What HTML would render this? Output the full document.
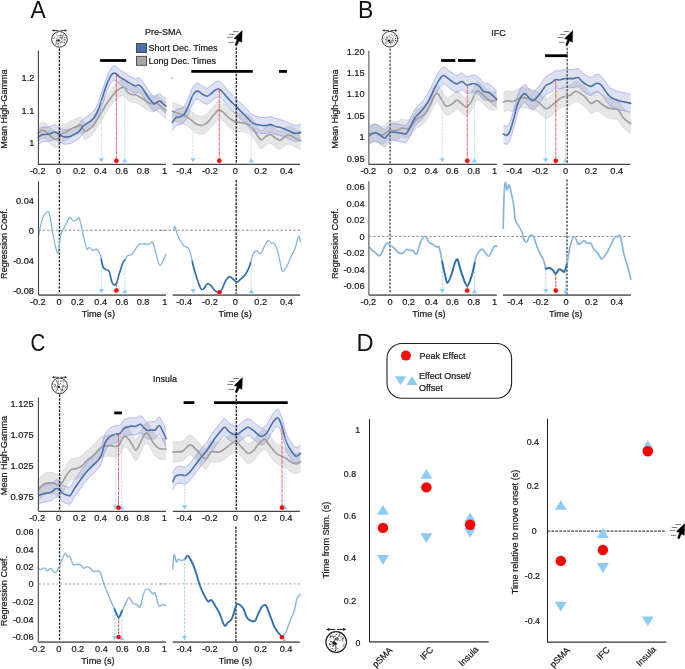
<!DOCTYPE html>
<html><head><meta charset="utf-8"><title>Figure</title>
<style>html,body{margin:0;padding:0;background:#fff;} body{width:685px;height:669px;overflow:hidden;} svg text{font-family:"Liberation Sans", sans-serif;} svg{will-change:transform;}</style>
</head><body>
<svg width="685" height="669" viewBox="0 0 685 669" style="display:block">
<rect x="0" y="0" width="685" height="669" fill="#fff"/>
<text x="0" y="0" font-size="24.6" fill="#111" transform="translate(30.6 17.6) scale(0.93 1)">A</text>
<text x="0" y="0" font-size="24.6" fill="#111" transform="translate(358.1 17.7) scale(0.936 1)">B</text>
<text x="0" y="0" font-size="24.6" fill="#111" transform="translate(30.4 351.0) scale(0.83 1)">C</text>
<text x="0" y="0" font-size="24.6" fill="#111" transform="translate(356.4 351.0) scale(0.965 1)">D</text>
<path d="M38.30,125.40 C38.90,124.90 40.65,122.73 41.90,122.40 C43.15,122.07 44.50,122.58 45.80,123.40 C47.10,124.22 48.23,126.00 49.70,127.30 C51.17,128.60 53.13,130.72 54.60,131.20 C56.07,131.68 57.37,131.07 58.50,130.20 C59.63,129.33 60.27,126.97 61.40,126.00 C62.53,125.03 63.83,125.17 65.30,124.40 C66.77,123.63 68.73,122.22 70.20,121.40 C71.67,120.58 72.78,120.05 74.10,119.50 C75.42,118.95 76.95,118.43 78.10,118.10 C79.25,117.77 79.87,116.62 81.00,117.50 C82.13,118.38 83.60,122.75 84.90,123.40 C86.20,124.05 87.50,122.22 88.80,121.40 C90.10,120.58 91.23,120.28 92.70,118.50 C94.17,116.72 95.97,113.30 97.60,110.70 C99.23,108.10 101.03,105.35 102.50,102.90 C103.97,100.45 104.93,98.28 106.40,96.00 C107.87,93.72 109.83,91.15 111.30,89.20 C112.77,87.25 113.90,85.62 115.20,84.30 C116.50,82.98 117.95,82.12 119.10,81.30 C120.25,80.48 121.12,79.55 122.10,79.40 C123.08,79.25 124.03,79.58 125.00,80.40 C125.97,81.22 126.92,83.33 127.90,84.30 C128.88,85.27 129.75,85.78 130.90,86.20 C132.05,86.62 133.50,86.47 134.80,86.80 C136.10,87.13 137.40,87.55 138.70,88.20 C140.00,88.85 141.13,89.72 142.60,90.70 C144.07,91.68 145.87,93.22 147.50,94.10 C149.13,94.98 150.93,95.92 152.40,96.00 C153.87,96.08 154.83,94.12 156.30,94.60 C157.77,95.08 159.57,97.58 161.20,98.90 C162.83,100.22 165.28,101.90 166.10,102.50 L166.10,118.50 C165.28,117.90 162.83,116.22 161.20,114.90 C159.57,113.58 157.77,111.08 156.30,110.60 C154.83,110.12 153.87,112.08 152.40,112.00 C150.93,111.92 149.13,110.98 147.50,110.10 C145.87,109.22 144.07,107.68 142.60,106.70 C141.13,105.72 140.00,104.85 138.70,104.20 C137.40,103.55 136.10,103.13 134.80,102.80 C133.50,102.47 132.05,102.62 130.90,102.20 C129.75,101.78 128.88,101.27 127.90,100.30 C126.92,99.33 125.97,97.22 125.00,96.40 C124.03,95.58 123.08,95.25 122.10,95.40 C121.12,95.55 120.25,96.48 119.10,97.30 C117.95,98.12 116.50,98.98 115.20,100.30 C113.90,101.62 112.77,103.25 111.30,105.20 C109.83,107.15 107.87,109.72 106.40,112.00 C104.93,114.28 103.97,116.45 102.50,118.90 C101.03,121.35 99.23,124.10 97.60,126.70 C95.97,129.30 94.17,132.72 92.70,134.50 C91.23,136.28 90.10,136.58 88.80,137.40 C87.50,138.22 86.20,140.05 84.90,139.40 C83.60,138.75 82.13,134.38 81.00,133.50 C79.87,132.62 79.25,133.77 78.10,134.10 C76.95,134.43 75.42,134.95 74.10,135.50 C72.78,136.05 71.67,136.58 70.20,137.40 C68.73,138.22 66.77,139.63 65.30,140.40 C63.83,141.17 62.53,141.03 61.40,142.00 C60.27,142.97 59.63,145.33 58.50,146.20 C57.37,147.07 56.07,147.68 54.60,147.20 C53.13,146.72 51.17,144.60 49.70,143.30 C48.23,142.00 47.10,140.22 45.80,139.40 C44.50,138.58 43.15,138.07 41.90,138.40 C40.65,138.73 38.90,140.90 38.30,141.40 Z" fill="rgba(140,140,140,0.22)" stroke="none"/>
<path d="M38.30,125.40 C38.90,124.90 40.65,122.73 41.90,122.40 C43.15,122.07 44.50,122.58 45.80,123.40 C47.10,124.22 48.23,126.00 49.70,127.30 C51.17,128.60 53.13,130.72 54.60,131.20 C56.07,131.68 57.37,131.07 58.50,130.20 C59.63,129.33 60.27,126.97 61.40,126.00 C62.53,125.03 63.83,125.17 65.30,124.40 C66.77,123.63 68.73,122.22 70.20,121.40 C71.67,120.58 72.78,120.05 74.10,119.50 C75.42,118.95 76.95,118.43 78.10,118.10 C79.25,117.77 79.87,116.62 81.00,117.50 C82.13,118.38 83.60,122.75 84.90,123.40 C86.20,124.05 87.50,122.22 88.80,121.40 C90.10,120.58 91.23,120.28 92.70,118.50 C94.17,116.72 95.97,113.30 97.60,110.70 C99.23,108.10 101.03,105.35 102.50,102.90 C103.97,100.45 104.93,98.28 106.40,96.00 C107.87,93.72 109.83,91.15 111.30,89.20 C112.77,87.25 113.90,85.62 115.20,84.30 C116.50,82.98 117.95,82.12 119.10,81.30 C120.25,80.48 121.12,79.55 122.10,79.40 C123.08,79.25 124.03,79.58 125.00,80.40 C125.97,81.22 126.92,83.33 127.90,84.30 C128.88,85.27 129.75,85.78 130.90,86.20 C132.05,86.62 133.50,86.47 134.80,86.80 C136.10,87.13 137.40,87.55 138.70,88.20 C140.00,88.85 141.13,89.72 142.60,90.70 C144.07,91.68 145.87,93.22 147.50,94.10 C149.13,94.98 150.93,95.92 152.40,96.00 C153.87,96.08 154.83,94.12 156.30,94.60 C157.77,95.08 159.57,97.58 161.20,98.90 C162.83,100.22 165.28,101.90 166.10,102.50" fill="none" stroke="rgba(150,150,150,0.25)" stroke-width="0.9"/>
<path d="M38.30,141.40 C38.90,140.90 40.65,138.73 41.90,138.40 C43.15,138.07 44.50,138.58 45.80,139.40 C47.10,140.22 48.23,142.00 49.70,143.30 C51.17,144.60 53.13,146.72 54.60,147.20 C56.07,147.68 57.37,147.07 58.50,146.20 C59.63,145.33 60.27,142.97 61.40,142.00 C62.53,141.03 63.83,141.17 65.30,140.40 C66.77,139.63 68.73,138.22 70.20,137.40 C71.67,136.58 72.78,136.05 74.10,135.50 C75.42,134.95 76.95,134.43 78.10,134.10 C79.25,133.77 79.87,132.62 81.00,133.50 C82.13,134.38 83.60,138.75 84.90,139.40 C86.20,140.05 87.50,138.22 88.80,137.40 C90.10,136.58 91.23,136.28 92.70,134.50 C94.17,132.72 95.97,129.30 97.60,126.70 C99.23,124.10 101.03,121.35 102.50,118.90 C103.97,116.45 104.93,114.28 106.40,112.00 C107.87,109.72 109.83,107.15 111.30,105.20 C112.77,103.25 113.90,101.62 115.20,100.30 C116.50,98.98 117.95,98.12 119.10,97.30 C120.25,96.48 121.12,95.55 122.10,95.40 C123.08,95.25 124.03,95.58 125.00,96.40 C125.97,97.22 126.92,99.33 127.90,100.30 C128.88,101.27 129.75,101.78 130.90,102.20 C132.05,102.62 133.50,102.47 134.80,102.80 C136.10,103.13 137.40,103.55 138.70,104.20 C140.00,104.85 141.13,105.72 142.60,106.70 C144.07,107.68 145.87,109.22 147.50,110.10 C149.13,110.98 150.93,111.92 152.40,112.00 C153.87,112.08 154.83,110.12 156.30,110.60 C157.77,111.08 159.57,113.58 161.20,114.90 C162.83,116.22 165.28,117.90 166.10,118.50" fill="none" stroke="rgba(150,150,150,0.25)" stroke-width="0.9"/>
<path d="M38.30,130.10 C38.90,129.67 40.65,128.00 41.90,127.50 C43.15,127.00 44.50,127.23 45.80,127.10 C47.10,126.97 48.23,127.08 49.70,126.70 C51.17,126.32 53.30,124.88 54.60,124.80 C55.90,124.72 56.52,125.65 57.50,126.20 C58.48,126.75 59.52,127.55 60.50,128.10 C61.48,128.65 62.27,129.23 63.40,129.50 C64.53,129.77 66.00,129.83 67.30,129.70 C68.60,129.57 69.90,129.20 71.20,128.70 C72.50,128.20 73.80,127.45 75.10,126.70 C76.40,125.95 77.70,125.43 79.00,124.20 C80.30,122.97 81.58,120.60 82.90,119.30 C84.22,118.00 85.58,117.32 86.90,116.40 C88.22,115.48 89.50,114.95 90.80,113.80 C92.10,112.65 93.40,111.52 94.70,109.50 C96.00,107.48 97.30,104.95 98.60,101.70 C99.90,98.45 101.20,93.92 102.50,90.00 C103.80,86.08 105.10,81.63 106.40,78.20 C107.70,74.77 109.15,71.42 110.30,69.40 C111.45,67.38 112.32,66.58 113.30,66.10 C114.28,65.62 115.23,65.95 116.20,66.50 C117.17,67.05 117.97,68.52 119.10,69.40 C120.23,70.28 121.68,70.98 123.00,71.80 C124.32,72.62 125.52,73.38 127.00,74.30 C128.48,75.22 130.43,76.55 131.90,77.30 C133.37,78.05 134.67,78.72 135.80,78.80 C136.93,78.88 137.57,77.40 138.70,77.80 C139.83,78.20 141.13,79.33 142.60,81.20 C144.07,83.07 146.03,86.88 147.50,89.00 C148.97,91.12 150.27,92.60 151.40,93.90 C152.53,95.20 153.32,96.63 154.30,96.80 C155.28,96.97 156.32,95.38 157.30,94.90 C158.28,94.42 159.22,93.58 160.20,93.90 C161.18,94.22 162.22,95.98 163.20,96.80 C164.18,97.62 165.62,98.47 166.10,98.80 L166.10,113.20 C165.62,112.87 164.18,112.02 163.20,111.20 C162.22,110.38 161.18,108.62 160.20,108.30 C159.22,107.98 158.28,108.82 157.30,109.30 C156.32,109.78 155.28,111.37 154.30,111.20 C153.32,111.03 152.53,109.60 151.40,108.30 C150.27,107.00 148.97,105.52 147.50,103.40 C146.03,101.28 144.07,97.47 142.60,95.60 C141.13,93.73 139.83,92.60 138.70,92.20 C137.57,91.80 136.93,93.28 135.80,93.20 C134.67,93.12 133.37,92.45 131.90,91.70 C130.43,90.95 128.48,89.62 127.00,88.70 C125.52,87.78 124.32,87.02 123.00,86.20 C121.68,85.38 120.23,84.68 119.10,83.80 C117.97,82.92 117.17,81.45 116.20,80.90 C115.23,80.35 114.28,80.02 113.30,80.50 C112.32,80.98 111.45,81.78 110.30,83.80 C109.15,85.82 107.70,89.17 106.40,92.60 C105.10,96.03 103.80,100.48 102.50,104.40 C101.20,108.32 99.90,112.85 98.60,116.10 C97.30,119.35 96.00,121.88 94.70,123.90 C93.40,125.92 92.10,127.05 90.80,128.20 C89.50,129.35 88.22,129.88 86.90,130.80 C85.58,131.72 84.22,132.40 82.90,133.70 C81.58,135.00 80.30,137.37 79.00,138.60 C77.70,139.83 76.40,140.35 75.10,141.10 C73.80,141.85 72.50,142.60 71.20,143.10 C69.90,143.60 68.60,143.97 67.30,144.10 C66.00,144.23 64.53,144.17 63.40,143.90 C62.27,143.63 61.48,143.05 60.50,142.50 C59.52,141.95 58.48,141.15 57.50,140.60 C56.52,140.05 55.90,139.12 54.60,139.20 C53.30,139.28 51.17,140.72 49.70,141.10 C48.23,141.48 47.10,141.37 45.80,141.50 C44.50,141.63 43.15,141.40 41.90,141.90 C40.65,142.40 38.90,144.07 38.30,144.50 Z" fill="rgba(90,110,180,0.2)" stroke="none"/>
<path d="M38.30,130.10 C38.90,129.67 40.65,128.00 41.90,127.50 C43.15,127.00 44.50,127.23 45.80,127.10 C47.10,126.97 48.23,127.08 49.70,126.70 C51.17,126.32 53.30,124.88 54.60,124.80 C55.90,124.72 56.52,125.65 57.50,126.20 C58.48,126.75 59.52,127.55 60.50,128.10 C61.48,128.65 62.27,129.23 63.40,129.50 C64.53,129.77 66.00,129.83 67.30,129.70 C68.60,129.57 69.90,129.20 71.20,128.70 C72.50,128.20 73.80,127.45 75.10,126.70 C76.40,125.95 77.70,125.43 79.00,124.20 C80.30,122.97 81.58,120.60 82.90,119.30 C84.22,118.00 85.58,117.32 86.90,116.40 C88.22,115.48 89.50,114.95 90.80,113.80 C92.10,112.65 93.40,111.52 94.70,109.50 C96.00,107.48 97.30,104.95 98.60,101.70 C99.90,98.45 101.20,93.92 102.50,90.00 C103.80,86.08 105.10,81.63 106.40,78.20 C107.70,74.77 109.15,71.42 110.30,69.40 C111.45,67.38 112.32,66.58 113.30,66.10 C114.28,65.62 115.23,65.95 116.20,66.50 C117.17,67.05 117.97,68.52 119.10,69.40 C120.23,70.28 121.68,70.98 123.00,71.80 C124.32,72.62 125.52,73.38 127.00,74.30 C128.48,75.22 130.43,76.55 131.90,77.30 C133.37,78.05 134.67,78.72 135.80,78.80 C136.93,78.88 137.57,77.40 138.70,77.80 C139.83,78.20 141.13,79.33 142.60,81.20 C144.07,83.07 146.03,86.88 147.50,89.00 C148.97,91.12 150.27,92.60 151.40,93.90 C152.53,95.20 153.32,96.63 154.30,96.80 C155.28,96.97 156.32,95.38 157.30,94.90 C158.28,94.42 159.22,93.58 160.20,93.90 C161.18,94.22 162.22,95.98 163.20,96.80 C164.18,97.62 165.62,98.47 166.10,98.80" fill="none" stroke="rgba(125,135,245,0.6)" stroke-width="0.9"/>
<path d="M38.30,144.50 C38.90,144.07 40.65,142.40 41.90,141.90 C43.15,141.40 44.50,141.63 45.80,141.50 C47.10,141.37 48.23,141.48 49.70,141.10 C51.17,140.72 53.30,139.28 54.60,139.20 C55.90,139.12 56.52,140.05 57.50,140.60 C58.48,141.15 59.52,141.95 60.50,142.50 C61.48,143.05 62.27,143.63 63.40,143.90 C64.53,144.17 66.00,144.23 67.30,144.10 C68.60,143.97 69.90,143.60 71.20,143.10 C72.50,142.60 73.80,141.85 75.10,141.10 C76.40,140.35 77.70,139.83 79.00,138.60 C80.30,137.37 81.58,135.00 82.90,133.70 C84.22,132.40 85.58,131.72 86.90,130.80 C88.22,129.88 89.50,129.35 90.80,128.20 C92.10,127.05 93.40,125.92 94.70,123.90 C96.00,121.88 97.30,119.35 98.60,116.10 C99.90,112.85 101.20,108.32 102.50,104.40 C103.80,100.48 105.10,96.03 106.40,92.60 C107.70,89.17 109.15,85.82 110.30,83.80 C111.45,81.78 112.32,80.98 113.30,80.50 C114.28,80.02 115.23,80.35 116.20,80.90 C117.17,81.45 117.97,82.92 119.10,83.80 C120.23,84.68 121.68,85.38 123.00,86.20 C124.32,87.02 125.52,87.78 127.00,88.70 C128.48,89.62 130.43,90.95 131.90,91.70 C133.37,92.45 134.67,93.12 135.80,93.20 C136.93,93.28 137.57,91.80 138.70,92.20 C139.83,92.60 141.13,93.73 142.60,95.60 C144.07,97.47 146.03,101.28 147.50,103.40 C148.97,105.52 150.27,107.00 151.40,108.30 C152.53,109.60 153.32,111.03 154.30,111.20 C155.28,111.37 156.32,109.78 157.30,109.30 C158.28,108.82 159.22,107.98 160.20,108.30 C161.18,108.62 162.22,110.38 163.20,111.20 C164.18,112.02 165.62,112.87 166.10,113.20" fill="none" stroke="rgba(125,135,245,0.6)" stroke-width="0.9"/>
<path d="M38.30,133.40 C38.90,132.90 40.65,130.73 41.90,130.40 C43.15,130.07 44.50,130.58 45.80,131.40 C47.10,132.22 48.23,134.00 49.70,135.30 C51.17,136.60 53.13,138.72 54.60,139.20 C56.07,139.68 57.37,139.07 58.50,138.20 C59.63,137.33 60.27,134.97 61.40,134.00 C62.53,133.03 63.83,133.17 65.30,132.40 C66.77,131.63 68.73,130.22 70.20,129.40 C71.67,128.58 72.78,128.05 74.10,127.50 C75.42,126.95 76.95,126.43 78.10,126.10 C79.25,125.77 79.87,124.62 81.00,125.50 C82.13,126.38 83.60,130.75 84.90,131.40 C86.20,132.05 87.50,130.22 88.80,129.40 C90.10,128.58 91.23,128.28 92.70,126.50 C94.17,124.72 95.97,121.30 97.60,118.70 C99.23,116.10 101.03,113.35 102.50,110.90 C103.97,108.45 104.93,106.28 106.40,104.00 C107.87,101.72 109.83,99.15 111.30,97.20 C112.77,95.25 113.90,93.62 115.20,92.30 C116.50,90.98 117.95,90.12 119.10,89.30 C120.25,88.48 121.12,87.55 122.10,87.40 C123.08,87.25 124.03,87.58 125.00,88.40 C125.97,89.22 126.92,91.33 127.90,92.30 C128.88,93.27 129.75,93.78 130.90,94.20 C132.05,94.62 133.50,94.47 134.80,94.80 C136.10,95.13 137.40,95.55 138.70,96.20 C140.00,96.85 141.13,97.72 142.60,98.70 C144.07,99.68 145.87,101.22 147.50,102.10 C149.13,102.98 150.93,103.92 152.40,104.00 C153.87,104.08 154.83,102.12 156.30,102.60 C157.77,103.08 159.57,105.58 161.20,106.90 C162.83,108.22 165.28,109.90 166.10,110.50" fill="none" stroke="#a0a0a0" stroke-width="1.7" stroke-linejoin="round" stroke-linecap="round" />
<path d="M38.30,137.30 C38.90,136.87 40.65,135.20 41.90,134.70 C43.15,134.20 44.50,134.43 45.80,134.30 C47.10,134.17 48.23,134.28 49.70,133.90 C51.17,133.52 53.30,132.08 54.60,132.00 C55.90,131.92 56.52,132.85 57.50,133.40 C58.48,133.95 59.52,134.75 60.50,135.30 C61.48,135.85 62.27,136.43 63.40,136.70 C64.53,136.97 66.00,137.03 67.30,136.90 C68.60,136.77 69.90,136.40 71.20,135.90 C72.50,135.40 73.80,134.65 75.10,133.90 C76.40,133.15 77.70,132.63 79.00,131.40 C80.30,130.17 81.58,127.80 82.90,126.50 C84.22,125.20 85.58,124.52 86.90,123.60 C88.22,122.68 89.50,122.15 90.80,121.00 C92.10,119.85 93.40,118.72 94.70,116.70 C96.00,114.68 97.30,112.15 98.60,108.90 C99.90,105.65 101.20,101.12 102.50,97.20 C103.80,93.28 105.10,88.83 106.40,85.40 C107.70,81.97 109.15,78.62 110.30,76.60 C111.45,74.58 112.32,73.78 113.30,73.30 C114.28,72.82 115.23,73.15 116.20,73.70 C117.17,74.25 117.97,75.72 119.10,76.60 C120.23,77.48 121.68,78.18 123.00,79.00 C124.32,79.82 125.52,80.58 127.00,81.50 C128.48,82.42 130.43,83.75 131.90,84.50 C133.37,85.25 134.67,85.92 135.80,86.00 C136.93,86.08 137.57,84.60 138.70,85.00 C139.83,85.40 141.13,86.53 142.60,88.40 C144.07,90.27 146.03,94.08 147.50,96.20 C148.97,98.32 150.27,99.80 151.40,101.10 C152.53,102.40 153.32,103.83 154.30,104.00 C155.28,104.17 156.32,102.58 157.30,102.10 C158.28,101.62 159.22,100.78 160.20,101.10 C161.18,101.42 162.22,103.18 163.20,104.00 C164.18,104.82 165.62,105.67 166.10,106.00" fill="none" stroke="#4a70b0" stroke-width="1.6" stroke-linejoin="round" stroke-linecap="round" />
<line x1="101.3" y1="100.8" x2="101.3" y2="159.5" stroke="#abdaf7" stroke-width="0.75" stroke-dasharray="2.4,0.9" stroke-linecap="butt"/>
<polygon points="98.70,158.30 103.90,158.30 101.30,162.50" fill="#8ccbf4"/>
<line x1="124.8" y1="80.1" x2="124.8" y2="159.5" stroke="#abdaf7" stroke-width="0.75" stroke-dasharray="2.4,0.9" stroke-linecap="butt"/>
<polygon points="122.20,162.50 127.40,162.50 124.80,158.30" fill="#8ccbf4"/>
<line x1="116.4" y1="73.9" x2="116.4" y2="161.4" stroke="#ea4848" stroke-width="0.85" stroke-dasharray="4,0.8" stroke-linecap="butt"/>
<circle cx="116.4" cy="160.8" r="2.35" fill="#f01010"/>
<line x1="59.4" y1="48.5" x2="59.4" y2="164.0" stroke="#1a1a1a" stroke-width="1.3" stroke-dasharray="2.4,1.35" stroke-linecap="butt"/>
<line x1="38.4" y1="50.5" x2="38.4" y2="164.4" stroke="#444" stroke-width="1.1" stroke-linecap="butt"/>
<line x1="38.3" y1="164.4" x2="166.0" y2="164.4" stroke="#444" stroke-width="1.2" stroke-linecap="butt"/>
<line x1="100.1" y1="60.5" x2="126.3" y2="60.5" stroke="#000" stroke-width="2.8" stroke-linecap="butt"/>
<text x="37.6" y="173.5" font-size="9.2" text-anchor="middle" fill="#1a1a1a" stroke="#1a1a1a" stroke-width="0.22" >-0.2</text>
<text x="58.6" y="173.5" font-size="9.2" text-anchor="middle" fill="#1a1a1a" stroke="#1a1a1a" stroke-width="0.22" >0</text>
<text x="79.3" y="173.5" font-size="9.2" text-anchor="middle" fill="#1a1a1a" stroke="#1a1a1a" stroke-width="0.22" >0.2</text>
<text x="100.5" y="173.5" font-size="9.2" text-anchor="middle" fill="#1a1a1a" stroke="#1a1a1a" stroke-width="0.22" >0.4</text>
<text x="121.8" y="173.5" font-size="9.2" text-anchor="middle" fill="#1a1a1a" stroke="#1a1a1a" stroke-width="0.22" >0.6</text>
<text x="143.1" y="173.5" font-size="9.2" text-anchor="middle" fill="#1a1a1a" stroke="#1a1a1a" stroke-width="0.22" >0.8</text>
<text x="164.6" y="173.5" font-size="9.2" text-anchor="middle" fill="#1a1a1a" stroke="#1a1a1a" stroke-width="0.22" >1</text>
<text x="34.4" y="81.2" font-size="9.2" text-anchor="end" fill="#1a1a1a" stroke="#1a1a1a" stroke-width="0.22" >1.2</text>
<text x="34.4" y="113.8" font-size="9.2" text-anchor="end" fill="#1a1a1a" stroke="#1a1a1a" stroke-width="0.22" >1.1</text>
<text x="34.4" y="146.4" font-size="9.2" text-anchor="end" fill="#1a1a1a" stroke="#1a1a1a" stroke-width="0.22" >1</text>
<text x="7.3" y="109" font-size="9.1" text-anchor="middle" fill="#1a1a1a" stroke="#1a1a1a" stroke-width="0.22" transform="rotate(-90 7.3 109)">Mean High-Gamma</text>
<circle cx="59.5" cy="39.4" r="7.8" fill="#fff" stroke="#1e1e1e" stroke-width="0.90"/>
<circle cx="53.69" cy="41.73" r="0.28" fill="#888"/><circle cx="64.51" cy="39.63" r="0.43" fill="#444"/><circle cx="64.92" cy="37.53" r="0.42" fill="#444"/><circle cx="57.76" cy="44.40" r="0.30" fill="#222"/><circle cx="57.11" cy="33.61" r="0.41" fill="#999"/><circle cx="58.59" cy="45.41" r="0.39" fill="#666"/><circle cx="60.11" cy="37.34" r="0.39" fill="#222"/><circle cx="57.13" cy="39.01" r="0.51" fill="#222"/><circle cx="63.73" cy="35.25" r="0.49" fill="#888"/><circle cx="58.81" cy="35.72" r="0.36" fill="#222"/><circle cx="56.34" cy="33.89" r="0.43" fill="#666"/><circle cx="53.30" cy="38.82" r="0.28" fill="#222"/><circle cx="63.78" cy="36.29" r="0.36" fill="#999"/><circle cx="63.22" cy="34.82" r="0.33" fill="#444"/><circle cx="58.84" cy="44.81" r="0.39" fill="#999"/><circle cx="57.50" cy="42.07" r="0.54" fill="#888"/><circle cx="55.98" cy="44.12" r="0.43" fill="#444"/><circle cx="57.08" cy="41.98" r="0.37" fill="#999"/><circle cx="64.07" cy="38.30" r="0.29" fill="#444"/><circle cx="56.22" cy="34.52" r="0.37" fill="#444"/><circle cx="59.21" cy="37.62" r="0.33" fill="#666"/><circle cx="60.09" cy="45.88" r="0.32" fill="#222"/><circle cx="63.33" cy="34.11" r="0.48" fill="#999"/><circle cx="58.78" cy="40.57" r="0.35" fill="#999"/><circle cx="60.01" cy="40.46" r="0.30" fill="#999"/><circle cx="55.97" cy="37.05" r="0.42" fill="#888"/><circle cx="58.87" cy="38.15" r="0.36" fill="#666"/><circle cx="64.68" cy="35.91" r="0.43" fill="#666"/><circle cx="59.76" cy="39.47" r="0.32" fill="#666"/><circle cx="64.42" cy="42.68" r="0.52" fill="#222"/><circle cx="57.74" cy="37.81" r="0.30" fill="#666"/><circle cx="59.43" cy="37.06" r="0.33" fill="#666"/><circle cx="58.61" cy="39.34" r="0.41" fill="#666"/><circle cx="56.80" cy="36.20" r="0.37" fill="#888"/><circle cx="54.62" cy="37.09" r="0.46" fill="#888"/><circle cx="58.42" cy="43.62" r="0.50" fill="#666"/><circle cx="57.34" cy="35.49" r="0.49" fill="#999"/><circle cx="63.38" cy="40.10" r="0.37" fill="#444"/><circle cx="54.13" cy="38.51" r="0.53" fill="#666"/><circle cx="63.17" cy="35.47" r="0.33" fill="#888"/><circle cx="60.67" cy="44.83" r="0.47" fill="#666"/><circle cx="57.17" cy="36.11" r="0.45" fill="#999"/><circle cx="63.17" cy="42.38" r="0.33" fill="#666"/><circle cx="64.49" cy="42.16" r="0.29" fill="#444"/><circle cx="56.59" cy="40.76" r="0.55" fill="#666"/><circle cx="58.90" cy="40.60" r="0.44" fill="#888"/><circle cx="62.17" cy="41.01" r="0.31" fill="#666"/><circle cx="58.90" cy="36.23" r="0.40" fill="#444"/><circle cx="64.60" cy="37.22" r="0.42" fill="#222"/><circle cx="59.21" cy="40.58" r="0.38" fill="#666"/><circle cx="60.48" cy="42.96" r="0.48" fill="#444"/><circle cx="64.30" cy="41.91" r="0.44" fill="#999"/><circle cx="61.12" cy="39.02" r="0.32" fill="#888"/><circle cx="65.81" cy="37.96" r="0.44" fill="#444"/><circle cx="65.19" cy="40.57" r="0.39" fill="#444"/><circle cx="58.83" cy="39.52" r="0.48" fill="#888"/><circle cx="65.32" cy="40.02" r="0.31" fill="#999"/><circle cx="56.66" cy="40.15" r="0.52" fill="#222"/><circle cx="62.89" cy="41.29" r="0.42" fill="#666"/><circle cx="62.79" cy="42.01" r="0.32" fill="#888"/><circle cx="61.84" cy="41.44" r="0.46" fill="#666"/><circle cx="61.40" cy="34.90" r="0.46" fill="#888"/><circle cx="62.27" cy="41.80" r="0.37" fill="#444"/><circle cx="58.19" cy="43.84" r="0.51" fill="#222"/><circle cx="54.91" cy="37.12" r="0.43" fill="#888"/><circle cx="60.01" cy="34.88" r="0.34" fill="#999"/><circle cx="56.24" cy="38.76" r="0.52" fill="#999"/><circle cx="62.71" cy="42.39" r="0.43" fill="#666"/><circle cx="55.30" cy="44.21" r="0.49" fill="#666"/><circle cx="60.48" cy="35.04" r="0.39" fill="#444"/>
<path d="M61.01,38.61 q1.45,0.25 1.98,-2.17 M61.87,39.28 q0.81,-0.46 0.11,-1.86 M59.25,41.94 q0.64,1.07 2.49,0.08 M60.08,35.27 q0.73,1.16 2.75,0.03 M63.52,39.30 q0.18,0.85 1.62,0.61 M60.65,37.93 q1.07,-0.94 -0.44,-2.82 M56.24,41.20 q-1.04,1.02 0.58,2.86" stroke="#333" stroke-width="0.60" fill="none" stroke-linecap="round"/>
<ellipse cx="58.60" cy="40.60" rx="1.30" ry="1.00" fill="#111"/>
<line x1="53.36" y1="30.5" x2="58.70" y2="30.5" stroke="#222" stroke-width="0.80"/>
<line x1="60.30" y1="30.5" x2="65.64" y2="30.5" stroke="#222" stroke-width="0.80"/>
<polygon points="51.86,30.5 54.26,29.20 54.26,31.80" fill="#222"/>
<polygon points="67.14,30.5 64.74,29.20 64.74,31.80" fill="#222"/>
<path d="M172.30,102.30 C173.22,102.62 175.90,103.55 177.80,104.20 C179.70,104.85 181.73,105.28 183.70,106.20 C185.67,107.12 187.65,108.30 189.60,109.70 C191.55,111.10 193.45,113.47 195.40,114.60 C197.35,115.73 199.33,116.67 201.30,116.50 C203.27,116.33 205.25,115.22 207.20,113.60 C209.15,111.98 211.05,108.92 213.00,106.80 C214.95,104.68 217.10,101.40 218.90,100.90 C220.70,100.40 222.17,102.50 223.80,103.80 C225.43,105.10 226.90,107.23 228.70,108.70 C230.50,110.17 232.65,111.78 234.60,112.60 C236.55,113.42 238.45,113.27 240.40,113.60 C242.35,113.93 244.50,113.95 246.30,114.60 C248.10,115.25 249.57,115.87 251.20,117.50 C252.83,119.13 254.47,122.18 256.10,124.40 C257.73,126.62 259.37,130.32 261.00,130.80 C262.63,131.28 264.28,128.15 265.90,127.30 C267.52,126.45 269.08,125.38 270.70,125.70 C272.32,126.02 273.97,128.28 275.60,129.20 C277.23,130.12 278.87,131.52 280.50,131.20 C282.13,130.88 283.77,128.12 285.40,127.30 C287.03,126.48 288.67,125.98 290.30,126.30 C291.93,126.62 293.47,128.32 295.20,129.20 C296.93,130.08 299.78,131.20 300.70,131.60 L300.70,149.60 C299.78,149.20 296.93,148.08 295.20,147.20 C293.47,146.32 291.93,144.62 290.30,144.30 C288.67,143.98 287.03,144.48 285.40,145.30 C283.77,146.12 282.13,148.88 280.50,149.20 C278.87,149.52 277.23,148.12 275.60,147.20 C273.97,146.28 272.32,144.02 270.70,143.70 C269.08,143.38 267.52,144.45 265.90,145.30 C264.28,146.15 262.63,149.28 261.00,148.80 C259.37,148.32 257.73,144.62 256.10,142.40 C254.47,140.18 252.83,137.13 251.20,135.50 C249.57,133.87 248.10,133.25 246.30,132.60 C244.50,131.95 242.35,131.93 240.40,131.60 C238.45,131.27 236.55,131.42 234.60,130.60 C232.65,129.78 230.50,128.17 228.70,126.70 C226.90,125.23 225.43,123.10 223.80,121.80 C222.17,120.50 220.70,118.40 218.90,118.90 C217.10,119.40 214.95,122.68 213.00,124.80 C211.05,126.92 209.15,129.98 207.20,131.60 C205.25,133.22 203.27,134.33 201.30,134.50 C199.33,134.67 197.35,133.73 195.40,132.60 C193.45,131.47 191.55,129.10 189.60,127.70 C187.65,126.30 185.67,125.12 183.70,124.20 C181.73,123.28 179.70,122.85 177.80,122.20 C175.90,121.55 173.22,120.62 172.30,120.30 Z" fill="rgba(140,140,140,0.22)" stroke="none"/>
<path d="M172.30,102.30 C173.22,102.62 175.90,103.55 177.80,104.20 C179.70,104.85 181.73,105.28 183.70,106.20 C185.67,107.12 187.65,108.30 189.60,109.70 C191.55,111.10 193.45,113.47 195.40,114.60 C197.35,115.73 199.33,116.67 201.30,116.50 C203.27,116.33 205.25,115.22 207.20,113.60 C209.15,111.98 211.05,108.92 213.00,106.80 C214.95,104.68 217.10,101.40 218.90,100.90 C220.70,100.40 222.17,102.50 223.80,103.80 C225.43,105.10 226.90,107.23 228.70,108.70 C230.50,110.17 232.65,111.78 234.60,112.60 C236.55,113.42 238.45,113.27 240.40,113.60 C242.35,113.93 244.50,113.95 246.30,114.60 C248.10,115.25 249.57,115.87 251.20,117.50 C252.83,119.13 254.47,122.18 256.10,124.40 C257.73,126.62 259.37,130.32 261.00,130.80 C262.63,131.28 264.28,128.15 265.90,127.30 C267.52,126.45 269.08,125.38 270.70,125.70 C272.32,126.02 273.97,128.28 275.60,129.20 C277.23,130.12 278.87,131.52 280.50,131.20 C282.13,130.88 283.77,128.12 285.40,127.30 C287.03,126.48 288.67,125.98 290.30,126.30 C291.93,126.62 293.47,128.32 295.20,129.20 C296.93,130.08 299.78,131.20 300.70,131.60" fill="none" stroke="rgba(150,150,150,0.25)" stroke-width="0.9"/>
<path d="M172.30,120.30 C173.22,120.62 175.90,121.55 177.80,122.20 C179.70,122.85 181.73,123.28 183.70,124.20 C185.67,125.12 187.65,126.30 189.60,127.70 C191.55,129.10 193.45,131.47 195.40,132.60 C197.35,133.73 199.33,134.67 201.30,134.50 C203.27,134.33 205.25,133.22 207.20,131.60 C209.15,129.98 211.05,126.92 213.00,124.80 C214.95,122.68 217.10,119.40 218.90,118.90 C220.70,118.40 222.17,120.50 223.80,121.80 C225.43,123.10 226.90,125.23 228.70,126.70 C230.50,128.17 232.65,129.78 234.60,130.60 C236.55,131.42 238.45,131.27 240.40,131.60 C242.35,131.93 244.50,131.95 246.30,132.60 C248.10,133.25 249.57,133.87 251.20,135.50 C252.83,137.13 254.47,140.18 256.10,142.40 C257.73,144.62 259.37,148.32 261.00,148.80 C262.63,149.28 264.28,146.15 265.90,145.30 C267.52,144.45 269.08,143.38 270.70,143.70 C272.32,144.02 273.97,146.28 275.60,147.20 C277.23,148.12 278.87,149.52 280.50,149.20 C282.13,148.88 283.77,146.12 285.40,145.30 C287.03,144.48 288.67,143.98 290.30,144.30 C291.93,144.62 293.47,146.32 295.20,147.20 C296.93,148.08 299.78,149.20 300.70,149.60" fill="none" stroke="rgba(150,150,150,0.25)" stroke-width="0.9"/>
<path d="M172.30,114.60 C172.90,113.78 174.65,110.68 175.90,109.70 C177.15,108.72 178.50,109.18 179.80,108.70 C181.10,108.22 182.40,108.27 183.70,106.80 C185.00,105.33 186.30,102.68 187.60,99.90 C188.90,97.12 190.27,92.70 191.50,90.10 C192.73,87.50 193.85,85.43 195.00,84.30 C196.15,83.17 197.18,82.98 198.40,83.30 C199.62,83.62 200.83,85.38 202.30,86.20 C203.77,87.02 205.73,88.30 207.20,88.20 C208.67,88.10 209.80,86.58 211.10,85.60 C212.40,84.62 213.70,83.07 215.00,82.30 C216.30,81.53 217.60,80.67 218.90,81.00 C220.20,81.33 221.33,82.78 222.80,84.30 C224.27,85.82 226.07,88.32 227.70,90.10 C229.33,91.88 230.97,93.37 232.60,95.00 C234.23,96.63 235.87,98.27 237.50,99.90 C239.13,101.53 240.77,103.17 242.40,104.80 C244.03,106.43 245.67,108.07 247.30,109.70 C248.93,111.33 250.57,113.45 252.20,114.60 C253.83,115.75 255.48,116.12 257.10,116.60 C258.72,117.08 260.28,117.35 261.90,117.50 C263.52,117.65 265.33,117.65 266.80,117.50 C268.27,117.35 269.23,116.43 270.70,116.60 C272.17,116.77 273.97,118.02 275.60,118.50 C277.23,118.98 278.87,119.02 280.50,119.50 C282.13,119.98 283.77,120.75 285.40,121.40 C287.03,122.05 288.67,122.73 290.30,123.40 C291.93,124.07 293.47,125.23 295.20,125.40 C296.93,125.57 299.78,124.57 300.70,124.40 L300.70,140.40 C299.78,140.57 296.93,141.57 295.20,141.40 C293.47,141.23 291.93,140.07 290.30,139.40 C288.67,138.73 287.03,138.05 285.40,137.40 C283.77,136.75 282.13,135.98 280.50,135.50 C278.87,135.02 277.23,134.98 275.60,134.50 C273.97,134.02 272.17,132.77 270.70,132.60 C269.23,132.43 268.27,133.35 266.80,133.50 C265.33,133.65 263.52,133.65 261.90,133.50 C260.28,133.35 258.72,133.08 257.10,132.60 C255.48,132.12 253.83,131.75 252.20,130.60 C250.57,129.45 248.93,127.33 247.30,125.70 C245.67,124.07 244.03,122.43 242.40,120.80 C240.77,119.17 239.13,117.53 237.50,115.90 C235.87,114.27 234.23,112.63 232.60,111.00 C230.97,109.37 229.33,107.88 227.70,106.10 C226.07,104.32 224.27,101.82 222.80,100.30 C221.33,98.78 220.20,97.33 218.90,97.00 C217.60,96.67 216.30,97.53 215.00,98.30 C213.70,99.07 212.40,100.62 211.10,101.60 C209.80,102.58 208.67,104.10 207.20,104.20 C205.73,104.30 203.77,103.02 202.30,102.20 C200.83,101.38 199.62,99.62 198.40,99.30 C197.18,98.98 196.15,99.17 195.00,100.30 C193.85,101.43 192.73,103.50 191.50,106.10 C190.27,108.70 188.90,113.12 187.60,115.90 C186.30,118.68 185.00,121.33 183.70,122.80 C182.40,124.27 181.10,124.22 179.80,124.70 C178.50,125.18 177.15,124.72 175.90,125.70 C174.65,126.68 172.90,129.78 172.30,130.60 Z" fill="rgba(90,110,180,0.2)" stroke="none"/>
<path d="M172.30,114.60 C172.90,113.78 174.65,110.68 175.90,109.70 C177.15,108.72 178.50,109.18 179.80,108.70 C181.10,108.22 182.40,108.27 183.70,106.80 C185.00,105.33 186.30,102.68 187.60,99.90 C188.90,97.12 190.27,92.70 191.50,90.10 C192.73,87.50 193.85,85.43 195.00,84.30 C196.15,83.17 197.18,82.98 198.40,83.30 C199.62,83.62 200.83,85.38 202.30,86.20 C203.77,87.02 205.73,88.30 207.20,88.20 C208.67,88.10 209.80,86.58 211.10,85.60 C212.40,84.62 213.70,83.07 215.00,82.30 C216.30,81.53 217.60,80.67 218.90,81.00 C220.20,81.33 221.33,82.78 222.80,84.30 C224.27,85.82 226.07,88.32 227.70,90.10 C229.33,91.88 230.97,93.37 232.60,95.00 C234.23,96.63 235.87,98.27 237.50,99.90 C239.13,101.53 240.77,103.17 242.40,104.80 C244.03,106.43 245.67,108.07 247.30,109.70 C248.93,111.33 250.57,113.45 252.20,114.60 C253.83,115.75 255.48,116.12 257.10,116.60 C258.72,117.08 260.28,117.35 261.90,117.50 C263.52,117.65 265.33,117.65 266.80,117.50 C268.27,117.35 269.23,116.43 270.70,116.60 C272.17,116.77 273.97,118.02 275.60,118.50 C277.23,118.98 278.87,119.02 280.50,119.50 C282.13,119.98 283.77,120.75 285.40,121.40 C287.03,122.05 288.67,122.73 290.30,123.40 C291.93,124.07 293.47,125.23 295.20,125.40 C296.93,125.57 299.78,124.57 300.70,124.40" fill="none" stroke="rgba(125,135,245,0.6)" stroke-width="0.9"/>
<path d="M172.30,130.60 C172.90,129.78 174.65,126.68 175.90,125.70 C177.15,124.72 178.50,125.18 179.80,124.70 C181.10,124.22 182.40,124.27 183.70,122.80 C185.00,121.33 186.30,118.68 187.60,115.90 C188.90,113.12 190.27,108.70 191.50,106.10 C192.73,103.50 193.85,101.43 195.00,100.30 C196.15,99.17 197.18,98.98 198.40,99.30 C199.62,99.62 200.83,101.38 202.30,102.20 C203.77,103.02 205.73,104.30 207.20,104.20 C208.67,104.10 209.80,102.58 211.10,101.60 C212.40,100.62 213.70,99.07 215.00,98.30 C216.30,97.53 217.60,96.67 218.90,97.00 C220.20,97.33 221.33,98.78 222.80,100.30 C224.27,101.82 226.07,104.32 227.70,106.10 C229.33,107.88 230.97,109.37 232.60,111.00 C234.23,112.63 235.87,114.27 237.50,115.90 C239.13,117.53 240.77,119.17 242.40,120.80 C244.03,122.43 245.67,124.07 247.30,125.70 C248.93,127.33 250.57,129.45 252.20,130.60 C253.83,131.75 255.48,132.12 257.10,132.60 C258.72,133.08 260.28,133.35 261.90,133.50 C263.52,133.65 265.33,133.65 266.80,133.50 C268.27,133.35 269.23,132.43 270.70,132.60 C272.17,132.77 273.97,134.02 275.60,134.50 C277.23,134.98 278.87,135.02 280.50,135.50 C282.13,135.98 283.77,136.75 285.40,137.40 C287.03,138.05 288.67,138.73 290.30,139.40 C291.93,140.07 293.47,141.23 295.20,141.40 C296.93,141.57 299.78,140.57 300.70,140.40" fill="none" stroke="rgba(125,135,245,0.6)" stroke-width="0.9"/>
<path d="M172.30,111.30 C173.22,111.62 175.90,112.55 177.80,113.20 C179.70,113.85 181.73,114.28 183.70,115.20 C185.67,116.12 187.65,117.30 189.60,118.70 C191.55,120.10 193.45,122.47 195.40,123.60 C197.35,124.73 199.33,125.67 201.30,125.50 C203.27,125.33 205.25,124.22 207.20,122.60 C209.15,120.98 211.05,117.92 213.00,115.80 C214.95,113.68 217.10,110.40 218.90,109.90 C220.70,109.40 222.17,111.50 223.80,112.80 C225.43,114.10 226.90,116.23 228.70,117.70 C230.50,119.17 232.65,120.78 234.60,121.60 C236.55,122.42 238.45,122.27 240.40,122.60 C242.35,122.93 244.50,122.95 246.30,123.60 C248.10,124.25 249.57,124.87 251.20,126.50 C252.83,128.13 254.47,131.18 256.10,133.40 C257.73,135.62 259.37,139.32 261.00,139.80 C262.63,140.28 264.28,137.15 265.90,136.30 C267.52,135.45 269.08,134.38 270.70,134.70 C272.32,135.02 273.97,137.28 275.60,138.20 C277.23,139.12 278.87,140.52 280.50,140.20 C282.13,139.88 283.77,137.12 285.40,136.30 C287.03,135.48 288.67,134.98 290.30,135.30 C291.93,135.62 293.47,137.32 295.20,138.20 C296.93,139.08 299.78,140.20 300.70,140.60" fill="none" stroke="#a0a0a0" stroke-width="1.7" stroke-linejoin="round" stroke-linecap="round" />
<path d="M172.30,122.60 C172.90,121.78 174.65,118.68 175.90,117.70 C177.15,116.72 178.50,117.18 179.80,116.70 C181.10,116.22 182.40,116.27 183.70,114.80 C185.00,113.33 186.30,110.68 187.60,107.90 C188.90,105.12 190.27,100.70 191.50,98.10 C192.73,95.50 193.85,93.43 195.00,92.30 C196.15,91.17 197.18,90.98 198.40,91.30 C199.62,91.62 200.83,93.38 202.30,94.20 C203.77,95.02 205.73,96.30 207.20,96.20 C208.67,96.10 209.80,94.58 211.10,93.60 C212.40,92.62 213.70,91.07 215.00,90.30 C216.30,89.53 217.60,88.67 218.90,89.00 C220.20,89.33 221.33,90.78 222.80,92.30 C224.27,93.82 226.07,96.32 227.70,98.10 C229.33,99.88 230.97,101.37 232.60,103.00 C234.23,104.63 235.87,106.27 237.50,107.90 C239.13,109.53 240.77,111.17 242.40,112.80 C244.03,114.43 245.67,116.07 247.30,117.70 C248.93,119.33 250.57,121.45 252.20,122.60 C253.83,123.75 255.48,124.12 257.10,124.60 C258.72,125.08 260.28,125.35 261.90,125.50 C263.52,125.65 265.33,125.65 266.80,125.50 C268.27,125.35 269.23,124.43 270.70,124.60 C272.17,124.77 273.97,126.02 275.60,126.50 C277.23,126.98 278.87,127.02 280.50,127.50 C282.13,127.98 283.77,128.75 285.40,129.40 C287.03,130.05 288.67,130.73 290.30,131.40 C291.93,132.07 293.47,133.23 295.20,133.40 C296.93,133.57 299.78,132.57 300.70,132.40" fill="none" stroke="#4a70b0" stroke-width="1.6" stroke-linejoin="round" stroke-linecap="round" />
<line x1="193.1" y1="95.4" x2="193.1" y2="159.5" stroke="#abdaf7" stroke-width="0.75" stroke-dasharray="2.4,0.9" stroke-linecap="butt"/>
<polygon points="190.50,158.30 195.70,158.30 193.10,162.50" fill="#8ccbf4"/>
<line x1="251.2" y1="121.6" x2="251.2" y2="159.5" stroke="#abdaf7" stroke-width="0.75" stroke-dasharray="2.4,0.9" stroke-linecap="butt"/>
<polygon points="248.60,162.50 253.80,162.50 251.20,158.30" fill="#8ccbf4"/>
<line x1="219.3" y1="89.3" x2="219.3" y2="161.4" stroke="#ea4848" stroke-width="0.85" stroke-dasharray="4,0.8" stroke-linecap="butt"/>
<circle cx="219.3" cy="160.8" r="2.35" fill="#f01010"/>
<line x1="236.3" y1="47.6" x2="236.3" y2="164.0" stroke="#1a1a1a" stroke-width="1.3" stroke-dasharray="2.4,1.35" stroke-linecap="butt"/>
<line x1="172.6" y1="164.4" x2="300.0" y2="164.4" stroke="#444" stroke-width="1.2" stroke-linecap="butt"/>
<line x1="191.3" y1="71.4" x2="252.8" y2="71.4" stroke="#000" stroke-width="2.8" stroke-linecap="butt"/>
<line x1="279.0" y1="71.4" x2="287.0" y2="71.4" stroke="#000" stroke-width="2.8" stroke-linecap="butt"/>
<text x="184.2" y="173.5" font-size="9.2" text-anchor="middle" fill="#1a1a1a" stroke="#1a1a1a" stroke-width="0.22" >-0.4</text>
<text x="209.9" y="173.5" font-size="9.2" text-anchor="middle" fill="#1a1a1a" stroke="#1a1a1a" stroke-width="0.22" >-0.2</text>
<text x="235.3" y="173.5" font-size="9.2" text-anchor="middle" fill="#1a1a1a" stroke="#1a1a1a" stroke-width="0.22" >0</text>
<text x="260.7" y="173.5" font-size="9.2" text-anchor="middle" fill="#1a1a1a" stroke="#1a1a1a" stroke-width="0.22" >0.2</text>
<text x="286.4" y="173.5" font-size="9.2" text-anchor="middle" fill="#1a1a1a" stroke="#1a1a1a" stroke-width="0.22" >0.4</text>
<polygon points="242.20,30.40 233.90,38.50 237.00,39.50 235.00,45.00 236.60,45.90 239.00,41.00 241.80,42.20" fill="#000" stroke="#000" stroke-width="0.4" stroke-linejoin="round"/>
<line x1="233.00" y1="31.40" x2="238.60" y2="31.40" stroke="#555" stroke-width="0.75"/>
<line x1="229.20" y1="34.40" x2="234.80" y2="34.40" stroke="#555" stroke-width="0.75"/>
<line x1="227.20" y1="37.40" x2="232.80" y2="37.40" stroke="#555" stroke-width="0.75"/>
<line x1="228.30" y1="42.30" x2="233.90" y2="42.30" stroke="#555" stroke-width="0.75"/>
<line x1="171.3" y1="78.0" x2="173.3" y2="78.0" stroke="#666" stroke-width="0.8" stroke-linecap="butt"/>
<text x="163.3" y="34.9" font-size="9" text-anchor="middle" fill="#1a1a1a" stroke="#1a1a1a" stroke-width="0.22" >Pre-SMA</text>
<rect x="136.4" y="43.6" width="10.2" height="9" fill="#4a70b0" stroke="#333" stroke-width="0.8"/>
<rect x="136.4" y="56.3" width="10.2" height="9" fill="#a8a8a8" stroke="#333" stroke-width="0.8"/>
<text x="148.4" y="51.3" font-size="9" text-anchor="start" fill="#1a1a1a" stroke="#1a1a1a" stroke-width="0.22" >Short Dec. Times</text>
<text x="148.4" y="64.1" font-size="9" text-anchor="start" fill="#1a1a1a" stroke="#1a1a1a" stroke-width="0.22" >Long Dec. Times</text>
<line x1="59.4" y1="181.2" x2="59.4" y2="294.0" stroke="#1a1a1a" stroke-width="1.3" stroke-dasharray="2.4,1.35" stroke-linecap="butt"/>
<line x1="38.5" y1="230.3" x2="166" y2="230.3" stroke="#777" stroke-width="0.8" stroke-dasharray="2.5,1.8" stroke-linecap="butt"/>
<line x1="101.3" y1="259.2" x2="101.3" y2="290.2" stroke="#abdaf7" stroke-width="0.75" stroke-dasharray="2.4,0.9" stroke-linecap="butt"/>
<polygon points="98.70,289.00 103.90,289.00 101.30,293.20" fill="#8ccbf4"/>
<line x1="124.8" y1="260.0" x2="124.8" y2="290.2" stroke="#abdaf7" stroke-width="0.75" stroke-dasharray="2.4,0.9" stroke-linecap="butt"/>
<polygon points="122.20,293.20 127.40,293.20 124.80,289.00" fill="#8ccbf4"/>
<line x1="116.4" y1="283.1" x2="116.4" y2="292.1" stroke="#ea4848" stroke-width="0.85" stroke-dasharray="4,0.8" stroke-linecap="butt"/>
<circle cx="116.4" cy="290.5" r="2.35" fill="#f01010"/>
<path d="M38.50,235.80 C39.12,233.10 40.77,223.62 42.20,219.60 C43.63,215.58 45.87,212.52 47.10,211.70 C48.33,210.88 48.77,211.72 49.60,214.70 C50.43,217.68 51.07,224.02 52.10,229.60 C53.13,235.18 54.77,244.48 55.80,248.20 C56.83,251.92 57.47,254.18 58.30,251.90 C59.13,249.62 59.77,238.65 60.80,234.50 C61.83,230.35 63.05,229.82 64.50,227.00 C65.95,224.18 68.05,218.62 69.50,217.60 C70.95,216.58 71.97,220.57 73.20,220.90 C74.43,221.23 75.87,220.02 76.90,219.60 C77.93,219.18 78.37,215.92 79.40,218.40 C80.43,220.88 81.87,229.42 83.10,234.50 C84.33,239.58 85.77,246.75 86.80,248.90 C87.83,251.05 88.27,247.12 89.30,247.40 C90.33,247.68 91.75,250.27 93.00,250.60 C94.25,250.93 95.55,248.57 96.80,249.40 C98.05,250.23 99.75,253.97 100.50,255.60 C101.25,257.23 101.17,258.59 101.30,259.18" fill="none" stroke="#86b6dd" stroke-width="1.3" stroke-linejoin="round" stroke-linecap="round" />
<path d="M124.80,260.04 C125.30,259.30 126.68,256.54 127.80,255.60 C128.92,254.66 130.27,255.43 131.50,254.40 C132.73,253.37 133.95,251.07 135.20,249.40 C136.45,247.73 137.55,245.32 139.00,244.40 C140.45,243.48 142.25,243.90 143.90,243.90 C145.55,243.90 147.45,244.63 148.90,244.40 C150.35,244.17 151.37,240.83 152.60,242.50 C153.83,244.17 155.05,250.57 156.30,254.40 C157.55,258.23 158.52,265.50 160.10,265.50 C161.68,265.50 164.85,256.25 165.80,254.40" fill="none" stroke="#86b6dd" stroke-width="1.3" stroke-linejoin="round" stroke-linecap="round" />
<path d="M101.30,259.18 C101.58,260.45 102.30,265.11 103.00,266.80 C103.70,268.49 104.47,268.48 105.50,269.30 C106.53,270.12 108.08,269.43 109.20,271.70 C110.32,273.97 111.05,280.83 112.20,282.90 C113.35,284.97 114.95,285.55 116.10,284.10 C117.25,282.65 117.98,277.72 119.10,274.20 C120.22,270.68 121.85,265.36 122.80,263.00 C123.75,260.64 124.47,260.53 124.80,260.04" fill="none" stroke="#3070ae" stroke-width="1.7" stroke-linejoin="round" stroke-linecap="round" />
<line x1="38.5" y1="181.2" x2="38.5" y2="295.1" stroke="#444" stroke-width="1.1" stroke-linecap="butt"/>
<line x1="38.5" y1="295.1" x2="166.0" y2="295.1" stroke="#6e6e6e" stroke-width="1.7" stroke-linecap="butt"/>
<text x="37.8" y="305.0" font-size="9.2" text-anchor="middle" fill="#1a1a1a" stroke="#1a1a1a" stroke-width="0.22" >-0.2</text>
<text x="59.0" y="305.0" font-size="9.2" text-anchor="middle" fill="#1a1a1a" stroke="#1a1a1a" stroke-width="0.22" >0</text>
<text x="77.5" y="305.0" font-size="9.2" text-anchor="middle" fill="#1a1a1a" stroke="#1a1a1a" stroke-width="0.22" >0.2</text>
<text x="100.7" y="305.0" font-size="9.2" text-anchor="middle" fill="#1a1a1a" stroke="#1a1a1a" stroke-width="0.22" >0.4</text>
<text x="121.9" y="305.0" font-size="9.2" text-anchor="middle" fill="#1a1a1a" stroke="#1a1a1a" stroke-width="0.22" >0.6</text>
<text x="143.1" y="305.0" font-size="9.2" text-anchor="middle" fill="#1a1a1a" stroke="#1a1a1a" stroke-width="0.22" >0.8</text>
<text x="164.8" y="305.0" font-size="9.2" text-anchor="middle" fill="#1a1a1a" stroke="#1a1a1a" stroke-width="0.22" >1</text>
<text x="33.9" y="204.4" font-size="9.2" text-anchor="end" fill="#1a1a1a" stroke="#1a1a1a" stroke-width="0.22" >0.04</text>
<text x="33.9" y="234.1" font-size="9.2" text-anchor="end" fill="#1a1a1a" stroke="#1a1a1a" stroke-width="0.22" >0</text>
<text x="33.9" y="264.1" font-size="9.2" text-anchor="end" fill="#1a1a1a" stroke="#1a1a1a" stroke-width="0.22" >-0.04</text>
<text x="33.9" y="294.4" font-size="9.2" text-anchor="end" fill="#1a1a1a" stroke="#1a1a1a" stroke-width="0.22" >-0.08</text>
<text x="7.3" y="243.8" font-size="9.1" text-anchor="middle" fill="#1a1a1a" stroke="#1a1a1a" stroke-width="0.22" transform="rotate(-90 7.3 243.8)">Regression Coef.</text>
<text x="98.3" y="316.6" font-size="9.2" text-anchor="middle" fill="#1a1a1a" stroke="#1a1a1a" stroke-width="0.22" >Time (s)</text>
<line x1="236.2" y1="180.0" x2="236.2" y2="294.0" stroke="#1a1a1a" stroke-width="1.3" stroke-dasharray="2.4,1.35" stroke-linecap="butt"/>
<line x1="160" y1="230.3" x2="300.5" y2="230.3" stroke="#777" stroke-width="0.8" stroke-dasharray="2.5,1.8" stroke-linecap="butt"/>
<line x1="193.2" y1="265.5" x2="193.2" y2="290.2" stroke="#abdaf7" stroke-width="0.75" stroke-dasharray="2.4,0.9" stroke-linecap="butt"/>
<polygon points="190.60,289.00 195.80,289.00 193.20,293.20" fill="#8ccbf4"/>
<line x1="251.3" y1="260.3" x2="251.3" y2="290.2" stroke="#abdaf7" stroke-width="0.75" stroke-dasharray="2.4,0.9" stroke-linecap="butt"/>
<polygon points="248.70,293.20 253.90,293.20 251.30,289.00" fill="#8ccbf4"/>
<path d="M173.60,229.60 C173.82,229.10 174.27,225.78 174.90,226.60 C175.53,227.42 176.37,231.93 177.40,234.50 C178.43,237.07 180.07,240.13 181.10,242.00 C182.13,243.87 182.77,244.88 183.60,245.70 C184.43,246.52 185.28,246.48 186.10,246.90 C186.92,247.32 187.68,246.75 188.50,248.20 C189.32,249.65 190.37,253.40 191.00,255.60 C191.63,257.80 192.08,260.45 192.30,261.42" fill="none" stroke="#86b6dd" stroke-width="1.3" stroke-linejoin="round" stroke-linecap="round" />
<path d="M250.60,262.56 C251.02,261.20 252.07,256.39 253.10,254.40 C254.13,252.41 255.57,250.68 256.80,250.60 C258.03,250.52 259.27,254.52 260.50,253.90 C261.73,253.28 262.97,249.10 264.20,246.90 C265.43,244.70 266.65,241.32 267.90,240.70 C269.15,240.08 270.67,242.78 271.70,243.20 C272.73,243.62 273.07,241.75 274.10,243.20 C275.13,244.65 276.65,247.55 277.90,251.90 C279.15,256.25 280.57,266.20 281.60,269.30 C282.63,272.40 283.07,271.33 284.10,270.50 C285.13,269.67 286.57,266.78 287.80,264.30 C289.03,261.82 290.27,258.28 291.50,255.60 C292.73,252.92 294.03,251.38 295.20,248.20 C296.37,245.02 297.58,237.53 298.50,236.50 C299.42,235.47 300.33,241.08 300.70,242.00" fill="none" stroke="#86b6dd" stroke-width="1.3" stroke-linejoin="round" stroke-linecap="round" />
<path d="M192.30,261.42 C192.50,262.32 192.68,263.84 193.50,266.80 C194.32,269.76 195.97,275.57 197.20,279.20 C198.43,282.83 199.87,286.95 200.90,288.60 C201.93,290.25 202.37,289.85 203.40,289.10 C204.43,288.35 205.85,284.72 207.10,284.10 C208.35,283.48 209.65,284.37 210.90,285.40 C212.15,286.43 213.23,289.18 214.60,290.30 C215.97,291.42 217.87,292.30 219.10,292.10 C220.33,291.90 220.88,291.05 222.00,289.10 C223.12,287.15 224.55,282.47 225.80,280.40 C227.05,278.33 228.27,276.90 229.50,276.70 C230.73,276.50 231.97,278.28 233.20,279.20 C234.43,280.12 235.67,282.20 236.90,282.20 C238.13,282.20 239.15,280.53 240.60,279.20 C242.05,277.87 244.15,276.27 245.60,274.20 C247.05,272.13 248.47,268.74 249.30,266.80 C250.13,264.86 250.38,263.26 250.60,262.56" fill="none" stroke="#3070ae" stroke-width="1.7" stroke-linejoin="round" stroke-linecap="round" />
<circle cx="219.4" cy="292.3" r="2.3" fill="#f01010"/>
<line x1="172.6" y1="295.1" x2="300.2" y2="295.1" stroke="#6e6e6e" stroke-width="1.7" stroke-linecap="butt"/>
<text x="184.2" y="305.0" font-size="9.2" text-anchor="middle" fill="#1a1a1a" stroke="#1a1a1a" stroke-width="0.22" >-0.4</text>
<text x="209.9" y="305.0" font-size="9.2" text-anchor="middle" fill="#1a1a1a" stroke="#1a1a1a" stroke-width="0.22" >-0.2</text>
<text x="235.3" y="305.0" font-size="9.2" text-anchor="middle" fill="#1a1a1a" stroke="#1a1a1a" stroke-width="0.22" >0</text>
<text x="260.7" y="305.0" font-size="9.2" text-anchor="middle" fill="#1a1a1a" stroke="#1a1a1a" stroke-width="0.22" >0.2</text>
<text x="286.4" y="305.0" font-size="9.2" text-anchor="middle" fill="#1a1a1a" stroke="#1a1a1a" stroke-width="0.22" >0.4</text>
<text x="235.1" y="316.6" font-size="9.2" text-anchor="middle" fill="#1a1a1a" stroke="#1a1a1a" stroke-width="0.22" >Time (s)</text>
<path d="M368.90,125.30 C369.55,125.05 371.48,123.95 372.80,123.80 C374.12,123.65 375.48,123.98 376.80,124.40 C378.12,124.82 379.40,126.22 380.70,126.30 C382.00,126.38 383.13,125.72 384.60,124.90 C386.07,124.08 387.87,121.92 389.50,121.40 C391.13,120.88 392.93,121.87 394.40,121.80 C395.87,121.73 397.00,121.45 398.30,121.00 C399.60,120.55 400.73,119.28 402.20,119.10 C403.67,118.92 405.63,120.17 407.10,119.90 C408.57,119.63 409.53,119.03 411.00,117.50 C412.47,115.97 414.27,112.33 415.90,110.70 C417.53,109.07 419.17,108.85 420.80,107.70 C422.43,106.55 424.07,105.92 425.70,103.80 C427.33,101.68 429.30,97.60 430.60,95.00 C431.90,92.40 432.37,89.98 433.50,88.20 C434.63,86.42 436.10,83.98 437.40,84.30 C438.70,84.62 439.83,87.98 441.30,90.10 C442.77,92.22 444.40,96.18 446.20,97.00 C448.00,97.82 450.30,95.98 452.10,95.00 C453.90,94.02 455.37,91.10 457.00,91.10 C458.63,91.10 460.28,93.85 461.90,95.00 C463.52,96.15 465.08,98.48 466.70,98.00 C468.32,97.52 469.97,94.72 471.60,92.10 C473.23,89.48 474.87,83.60 476.50,82.30 C478.13,81.00 479.77,83.17 481.40,84.30 C483.03,85.43 484.67,87.80 486.30,89.10 C487.93,90.40 489.47,91.77 491.20,92.10 C492.93,92.43 495.78,91.27 496.70,91.10 L496.70,109.10 C495.78,109.27 492.93,110.43 491.20,110.10 C489.47,109.77 487.93,108.40 486.30,107.10 C484.67,105.80 483.03,103.43 481.40,102.30 C479.77,101.17 478.13,99.00 476.50,100.30 C474.87,101.60 473.23,107.48 471.60,110.10 C469.97,112.72 468.32,115.52 466.70,116.00 C465.08,116.48 463.52,114.15 461.90,113.00 C460.28,111.85 458.63,109.10 457.00,109.10 C455.37,109.10 453.90,112.02 452.10,113.00 C450.30,113.98 448.00,115.82 446.20,115.00 C444.40,114.18 442.77,110.22 441.30,108.10 C439.83,105.98 438.70,102.62 437.40,102.30 C436.10,101.98 434.63,104.42 433.50,106.20 C432.37,107.98 431.90,110.40 430.60,113.00 C429.30,115.60 427.33,119.68 425.70,121.80 C424.07,123.92 422.43,124.55 420.80,125.70 C419.17,126.85 417.53,127.07 415.90,128.70 C414.27,130.33 412.47,133.97 411.00,135.50 C409.53,137.03 408.57,137.63 407.10,137.90 C405.63,138.17 403.67,136.92 402.20,137.10 C400.73,137.28 399.60,138.55 398.30,139.00 C397.00,139.45 395.87,139.73 394.40,139.80 C392.93,139.87 391.13,138.88 389.50,139.40 C387.87,139.92 386.07,142.08 384.60,142.90 C383.13,143.72 382.00,144.38 380.70,144.30 C379.40,144.22 378.12,142.82 376.80,142.40 C375.48,141.98 374.12,141.65 372.80,141.80 C371.48,141.95 369.55,143.05 368.90,143.30 Z" fill="rgba(140,140,140,0.22)" stroke="none"/>
<path d="M368.90,125.30 C369.55,125.05 371.48,123.95 372.80,123.80 C374.12,123.65 375.48,123.98 376.80,124.40 C378.12,124.82 379.40,126.22 380.70,126.30 C382.00,126.38 383.13,125.72 384.60,124.90 C386.07,124.08 387.87,121.92 389.50,121.40 C391.13,120.88 392.93,121.87 394.40,121.80 C395.87,121.73 397.00,121.45 398.30,121.00 C399.60,120.55 400.73,119.28 402.20,119.10 C403.67,118.92 405.63,120.17 407.10,119.90 C408.57,119.63 409.53,119.03 411.00,117.50 C412.47,115.97 414.27,112.33 415.90,110.70 C417.53,109.07 419.17,108.85 420.80,107.70 C422.43,106.55 424.07,105.92 425.70,103.80 C427.33,101.68 429.30,97.60 430.60,95.00 C431.90,92.40 432.37,89.98 433.50,88.20 C434.63,86.42 436.10,83.98 437.40,84.30 C438.70,84.62 439.83,87.98 441.30,90.10 C442.77,92.22 444.40,96.18 446.20,97.00 C448.00,97.82 450.30,95.98 452.10,95.00 C453.90,94.02 455.37,91.10 457.00,91.10 C458.63,91.10 460.28,93.85 461.90,95.00 C463.52,96.15 465.08,98.48 466.70,98.00 C468.32,97.52 469.97,94.72 471.60,92.10 C473.23,89.48 474.87,83.60 476.50,82.30 C478.13,81.00 479.77,83.17 481.40,84.30 C483.03,85.43 484.67,87.80 486.30,89.10 C487.93,90.40 489.47,91.77 491.20,92.10 C492.93,92.43 495.78,91.27 496.70,91.10" fill="none" stroke="rgba(150,150,150,0.25)" stroke-width="0.9"/>
<path d="M368.90,143.30 C369.55,143.05 371.48,141.95 372.80,141.80 C374.12,141.65 375.48,141.98 376.80,142.40 C378.12,142.82 379.40,144.22 380.70,144.30 C382.00,144.38 383.13,143.72 384.60,142.90 C386.07,142.08 387.87,139.92 389.50,139.40 C391.13,138.88 392.93,139.87 394.40,139.80 C395.87,139.73 397.00,139.45 398.30,139.00 C399.60,138.55 400.73,137.28 402.20,137.10 C403.67,136.92 405.63,138.17 407.10,137.90 C408.57,137.63 409.53,137.03 411.00,135.50 C412.47,133.97 414.27,130.33 415.90,128.70 C417.53,127.07 419.17,126.85 420.80,125.70 C422.43,124.55 424.07,123.92 425.70,121.80 C427.33,119.68 429.30,115.60 430.60,113.00 C431.90,110.40 432.37,107.98 433.50,106.20 C434.63,104.42 436.10,101.98 437.40,102.30 C438.70,102.62 439.83,105.98 441.30,108.10 C442.77,110.22 444.40,114.18 446.20,115.00 C448.00,115.82 450.30,113.98 452.10,113.00 C453.90,112.02 455.37,109.10 457.00,109.10 C458.63,109.10 460.28,111.85 461.90,113.00 C463.52,114.15 465.08,116.48 466.70,116.00 C468.32,115.52 469.97,112.72 471.60,110.10 C473.23,107.48 474.87,101.60 476.50,100.30 C478.13,99.00 479.77,101.17 481.40,102.30 C483.03,103.43 484.67,105.80 486.30,107.10 C487.93,108.40 489.47,109.77 491.20,110.10 C492.93,110.43 495.78,109.27 496.70,109.10" fill="none" stroke="rgba(150,150,150,0.25)" stroke-width="0.9"/>
<path d="M368.90,127.80 C369.40,127.40 370.75,125.98 371.90,125.40 C373.05,124.82 374.50,124.17 375.80,124.30 C377.10,124.43 378.23,125.30 379.70,126.20 C381.17,127.10 383.30,129.60 384.60,129.70 C385.90,129.80 386.52,127.77 387.50,126.80 C388.48,125.83 389.35,124.45 390.50,123.90 C391.65,123.35 393.10,123.43 394.40,123.50 C395.70,123.57 397.00,124.07 398.30,124.30 C399.60,124.53 400.90,124.72 402.20,124.90 C403.50,125.08 404.80,126.38 406.10,125.40 C407.40,124.42 408.53,121.70 410.00,119.00 C411.47,116.30 413.27,111.65 414.90,109.20 C416.53,106.75 418.17,106.10 419.80,104.30 C421.43,102.50 423.07,100.68 424.70,98.40 C426.33,96.12 427.97,93.68 429.60,90.60 C431.23,87.52 432.87,83.15 434.50,79.90 C436.13,76.65 437.93,73.23 439.40,71.10 C440.87,68.97 442.00,67.43 443.30,67.10 C444.60,66.77 445.73,68.12 447.20,69.10 C448.67,70.08 450.47,71.95 452.10,73.00 C453.73,74.05 455.37,75.40 457.00,75.40 C458.63,75.40 460.28,72.82 461.90,73.00 C463.52,73.18 465.08,76.10 466.70,76.50 C468.32,76.90 470.13,75.58 471.60,75.40 C473.07,75.22 474.18,74.98 475.50,75.40 C476.82,75.82 478.18,76.67 479.50,77.90 C480.82,79.13 481.93,81.82 483.40,82.80 C484.87,83.78 486.83,83.15 488.30,83.80 C489.77,84.45 490.80,85.57 492.20,86.70 C493.60,87.83 495.95,89.95 496.70,90.60 L496.70,107.60 C495.95,106.95 493.60,104.83 492.20,103.70 C490.80,102.57 489.77,101.45 488.30,100.80 C486.83,100.15 484.87,100.78 483.40,99.80 C481.93,98.82 480.82,96.13 479.50,94.90 C478.18,93.67 476.82,92.82 475.50,92.40 C474.18,91.98 473.07,92.22 471.60,92.40 C470.13,92.58 468.32,93.90 466.70,93.50 C465.08,93.10 463.52,90.18 461.90,90.00 C460.28,89.82 458.63,92.40 457.00,92.40 C455.37,92.40 453.73,91.05 452.10,90.00 C450.47,88.95 448.67,87.08 447.20,86.10 C445.73,85.12 444.60,83.77 443.30,84.10 C442.00,84.43 440.87,85.97 439.40,88.10 C437.93,90.23 436.13,93.65 434.50,96.90 C432.87,100.15 431.23,104.52 429.60,107.60 C427.97,110.68 426.33,113.12 424.70,115.40 C423.07,117.68 421.43,119.50 419.80,121.30 C418.17,123.10 416.53,123.75 414.90,126.20 C413.27,128.65 411.47,133.30 410.00,136.00 C408.53,138.70 407.40,141.42 406.10,142.40 C404.80,143.38 403.50,142.08 402.20,141.90 C400.90,141.72 399.60,141.53 398.30,141.30 C397.00,141.07 395.70,140.57 394.40,140.50 C393.10,140.43 391.65,140.35 390.50,140.90 C389.35,141.45 388.48,142.83 387.50,143.80 C386.52,144.77 385.90,146.80 384.60,146.70 C383.30,146.60 381.17,144.10 379.70,143.20 C378.23,142.30 377.10,141.43 375.80,141.30 C374.50,141.17 373.05,141.82 371.90,142.40 C370.75,142.98 369.40,144.40 368.90,144.80 Z" fill="rgba(90,110,180,0.2)" stroke="none"/>
<path d="M368.90,127.80 C369.40,127.40 370.75,125.98 371.90,125.40 C373.05,124.82 374.50,124.17 375.80,124.30 C377.10,124.43 378.23,125.30 379.70,126.20 C381.17,127.10 383.30,129.60 384.60,129.70 C385.90,129.80 386.52,127.77 387.50,126.80 C388.48,125.83 389.35,124.45 390.50,123.90 C391.65,123.35 393.10,123.43 394.40,123.50 C395.70,123.57 397.00,124.07 398.30,124.30 C399.60,124.53 400.90,124.72 402.20,124.90 C403.50,125.08 404.80,126.38 406.10,125.40 C407.40,124.42 408.53,121.70 410.00,119.00 C411.47,116.30 413.27,111.65 414.90,109.20 C416.53,106.75 418.17,106.10 419.80,104.30 C421.43,102.50 423.07,100.68 424.70,98.40 C426.33,96.12 427.97,93.68 429.60,90.60 C431.23,87.52 432.87,83.15 434.50,79.90 C436.13,76.65 437.93,73.23 439.40,71.10 C440.87,68.97 442.00,67.43 443.30,67.10 C444.60,66.77 445.73,68.12 447.20,69.10 C448.67,70.08 450.47,71.95 452.10,73.00 C453.73,74.05 455.37,75.40 457.00,75.40 C458.63,75.40 460.28,72.82 461.90,73.00 C463.52,73.18 465.08,76.10 466.70,76.50 C468.32,76.90 470.13,75.58 471.60,75.40 C473.07,75.22 474.18,74.98 475.50,75.40 C476.82,75.82 478.18,76.67 479.50,77.90 C480.82,79.13 481.93,81.82 483.40,82.80 C484.87,83.78 486.83,83.15 488.30,83.80 C489.77,84.45 490.80,85.57 492.20,86.70 C493.60,87.83 495.95,89.95 496.70,90.60" fill="none" stroke="rgba(125,135,245,0.6)" stroke-width="0.9"/>
<path d="M368.90,144.80 C369.40,144.40 370.75,142.98 371.90,142.40 C373.05,141.82 374.50,141.17 375.80,141.30 C377.10,141.43 378.23,142.30 379.70,143.20 C381.17,144.10 383.30,146.60 384.60,146.70 C385.90,146.80 386.52,144.77 387.50,143.80 C388.48,142.83 389.35,141.45 390.50,140.90 C391.65,140.35 393.10,140.43 394.40,140.50 C395.70,140.57 397.00,141.07 398.30,141.30 C399.60,141.53 400.90,141.72 402.20,141.90 C403.50,142.08 404.80,143.38 406.10,142.40 C407.40,141.42 408.53,138.70 410.00,136.00 C411.47,133.30 413.27,128.65 414.90,126.20 C416.53,123.75 418.17,123.10 419.80,121.30 C421.43,119.50 423.07,117.68 424.70,115.40 C426.33,113.12 427.97,110.68 429.60,107.60 C431.23,104.52 432.87,100.15 434.50,96.90 C436.13,93.65 437.93,90.23 439.40,88.10 C440.87,85.97 442.00,84.43 443.30,84.10 C444.60,83.77 445.73,85.12 447.20,86.10 C448.67,87.08 450.47,88.95 452.10,90.00 C453.73,91.05 455.37,92.40 457.00,92.40 C458.63,92.40 460.28,89.82 461.90,90.00 C463.52,90.18 465.08,93.10 466.70,93.50 C468.32,93.90 470.13,92.58 471.60,92.40 C473.07,92.22 474.18,91.98 475.50,92.40 C476.82,92.82 478.18,93.67 479.50,94.90 C480.82,96.13 481.93,98.82 483.40,99.80 C484.87,100.78 486.83,100.15 488.30,100.80 C489.77,101.45 490.80,102.57 492.20,103.70 C493.60,104.83 495.95,106.95 496.70,107.60" fill="none" stroke="rgba(125,135,245,0.6)" stroke-width="0.9"/>
<path d="M368.90,134.30 C369.55,134.05 371.48,132.95 372.80,132.80 C374.12,132.65 375.48,132.98 376.80,133.40 C378.12,133.82 379.40,135.22 380.70,135.30 C382.00,135.38 383.13,134.72 384.60,133.90 C386.07,133.08 387.87,130.92 389.50,130.40 C391.13,129.88 392.93,130.87 394.40,130.80 C395.87,130.73 397.00,130.45 398.30,130.00 C399.60,129.55 400.73,128.28 402.20,128.10 C403.67,127.92 405.63,129.17 407.10,128.90 C408.57,128.63 409.53,128.03 411.00,126.50 C412.47,124.97 414.27,121.33 415.90,119.70 C417.53,118.07 419.17,117.85 420.80,116.70 C422.43,115.55 424.07,114.92 425.70,112.80 C427.33,110.68 429.30,106.60 430.60,104.00 C431.90,101.40 432.37,98.98 433.50,97.20 C434.63,95.42 436.10,92.98 437.40,93.30 C438.70,93.62 439.83,96.98 441.30,99.10 C442.77,101.22 444.40,105.18 446.20,106.00 C448.00,106.82 450.30,104.98 452.10,104.00 C453.90,103.02 455.37,100.10 457.00,100.10 C458.63,100.10 460.28,102.85 461.90,104.00 C463.52,105.15 465.08,107.48 466.70,107.00 C468.32,106.52 469.97,103.72 471.60,101.10 C473.23,98.48 474.87,92.60 476.50,91.30 C478.13,90.00 479.77,92.17 481.40,93.30 C483.03,94.43 484.67,96.80 486.30,98.10 C487.93,99.40 489.47,100.77 491.20,101.10 C492.93,101.43 495.78,100.27 496.70,100.10" fill="none" stroke="#a0a0a0" stroke-width="1.7" stroke-linejoin="round" stroke-linecap="round" />
<path d="M368.90,136.30 C369.40,135.90 370.75,134.48 371.90,133.90 C373.05,133.32 374.50,132.67 375.80,132.80 C377.10,132.93 378.23,133.80 379.70,134.70 C381.17,135.60 383.30,138.10 384.60,138.20 C385.90,138.30 386.52,136.27 387.50,135.30 C388.48,134.33 389.35,132.95 390.50,132.40 C391.65,131.85 393.10,131.93 394.40,132.00 C395.70,132.07 397.00,132.57 398.30,132.80 C399.60,133.03 400.90,133.22 402.20,133.40 C403.50,133.58 404.80,134.88 406.10,133.90 C407.40,132.92 408.53,130.20 410.00,127.50 C411.47,124.80 413.27,120.15 414.90,117.70 C416.53,115.25 418.17,114.60 419.80,112.80 C421.43,111.00 423.07,109.18 424.70,106.90 C426.33,104.62 427.97,102.18 429.60,99.10 C431.23,96.02 432.87,91.65 434.50,88.40 C436.13,85.15 437.93,81.73 439.40,79.60 C440.87,77.47 442.00,75.93 443.30,75.60 C444.60,75.27 445.73,76.62 447.20,77.60 C448.67,78.58 450.47,80.45 452.10,81.50 C453.73,82.55 455.37,83.90 457.00,83.90 C458.63,83.90 460.28,81.32 461.90,81.50 C463.52,81.68 465.08,84.60 466.70,85.00 C468.32,85.40 470.13,84.08 471.60,83.90 C473.07,83.72 474.18,83.48 475.50,83.90 C476.82,84.32 478.18,85.17 479.50,86.40 C480.82,87.63 481.93,90.32 483.40,91.30 C484.87,92.28 486.83,91.65 488.30,92.30 C489.77,92.95 490.80,94.07 492.20,95.20 C493.60,96.33 495.95,98.45 496.70,99.10" fill="none" stroke="#4a70b0" stroke-width="1.6" stroke-linejoin="round" stroke-linecap="round" />
<line x1="442.3" y1="76.6" x2="442.3" y2="159.5" stroke="#abdaf7" stroke-width="0.75" stroke-dasharray="2.4,0.9" stroke-linecap="butt"/>
<polygon points="439.70,158.30 444.90,158.30 442.30,162.50" fill="#8ccbf4"/>
<line x1="474.4" y1="83.9" x2="474.4" y2="159.5" stroke="#abdaf7" stroke-width="0.75" stroke-dasharray="2.4,0.9" stroke-linecap="butt"/>
<polygon points="471.80,162.50 477.00,162.50 474.40,158.30" fill="#8ccbf4"/>
<line x1="467.3" y1="84.9" x2="467.3" y2="161.4" stroke="#ea4848" stroke-width="0.85" stroke-dasharray="4,0.8" stroke-linecap="butt"/>
<circle cx="467.3" cy="160.8" r="2.35" fill="#f01010"/>
<line x1="390.1" y1="48.5" x2="390.1" y2="164.0" stroke="#666" stroke-width="1.5" stroke-dasharray="2.4,1.35" stroke-linecap="butt"/>
<line x1="368.8" y1="50.8" x2="368.8" y2="164.4" stroke="#888" stroke-width="1.6" stroke-linecap="butt"/>
<line x1="368.8" y1="164.4" x2="496.8" y2="164.4" stroke="#444" stroke-width="1.2" stroke-linecap="butt"/>
<line x1="441" y1="60.5" x2="455.3" y2="60.5" stroke="#000" stroke-width="2.8" stroke-linecap="butt"/>
<line x1="458" y1="60.5" x2="475.5" y2="60.5" stroke="#000" stroke-width="2.8" stroke-linecap="butt"/>
<text x="368.3" y="173.8" font-size="9.2" text-anchor="middle" fill="#1a1a1a" stroke="#1a1a1a" stroke-width="0.22" >-0.2</text>
<text x="390.0" y="173.8" font-size="9.2" text-anchor="middle" fill="#1a1a1a" stroke="#1a1a1a" stroke-width="0.22" >0</text>
<text x="410.1" y="173.8" font-size="9.2" text-anchor="middle" fill="#1a1a1a" stroke="#1a1a1a" stroke-width="0.22" >0.2</text>
<text x="431.2" y="173.8" font-size="9.2" text-anchor="middle" fill="#1a1a1a" stroke="#1a1a1a" stroke-width="0.22" >0.4</text>
<text x="452.3" y="173.8" font-size="9.2" text-anchor="middle" fill="#1a1a1a" stroke="#1a1a1a" stroke-width="0.22" >0.6</text>
<text x="473.8" y="173.8" font-size="9.2" text-anchor="middle" fill="#1a1a1a" stroke="#1a1a1a" stroke-width="0.22" >0.8</text>
<text x="494.6" y="173.8" font-size="9.2" text-anchor="middle" fill="#1a1a1a" stroke="#1a1a1a" stroke-width="0.22" >1</text>
<text x="364.6" y="54.8" font-size="9.2" text-anchor="end" fill="#1a1a1a" stroke="#1a1a1a" stroke-width="0.22" >1.20</text>
<text x="364.6" y="76.1" font-size="9.2" text-anchor="end" fill="#1a1a1a" stroke="#1a1a1a" stroke-width="0.22" >1.15</text>
<text x="364.6" y="97.4" font-size="9.2" text-anchor="end" fill="#1a1a1a" stroke="#1a1a1a" stroke-width="0.22" >1.10</text>
<text x="364.6" y="118.7" font-size="9.2" text-anchor="end" fill="#1a1a1a" stroke="#1a1a1a" stroke-width="0.22" >1.05</text>
<text x="364.6" y="140.2" font-size="9.2" text-anchor="end" fill="#1a1a1a" stroke="#1a1a1a" stroke-width="0.22" >1</text>
<text x="364.6" y="161.7" font-size="9.2" text-anchor="end" fill="#1a1a1a" stroke="#1a1a1a" stroke-width="0.22" >0.95</text>
<text x="337.8" y="109" font-size="9.1" text-anchor="middle" fill="#1a1a1a" stroke="#1a1a1a" stroke-width="0.22" transform="rotate(-90 337.8 109)">Mean High-Gamma</text>
<circle cx="389.8" cy="39.2" r="7.8" fill="#fff" stroke="#1e1e1e" stroke-width="0.90"/>
<circle cx="390.42" cy="42.31" r="0.30" fill="#444"/><circle cx="388.02" cy="41.70" r="0.35" fill="#888"/><circle cx="387.54" cy="41.59" r="0.37" fill="#888"/><circle cx="390.46" cy="43.12" r="0.52" fill="#999"/><circle cx="393.93" cy="35.59" r="0.30" fill="#888"/><circle cx="388.01" cy="41.06" r="0.53" fill="#888"/><circle cx="386.82" cy="44.82" r="0.35" fill="#666"/><circle cx="385.83" cy="42.88" r="0.48" fill="#666"/><circle cx="388.25" cy="43.36" r="0.46" fill="#666"/><circle cx="394.40" cy="34.86" r="0.43" fill="#888"/><circle cx="393.97" cy="35.24" r="0.28" fill="#666"/><circle cx="387.42" cy="37.59" r="0.36" fill="#666"/><circle cx="395.69" cy="41.33" r="0.49" fill="#999"/><circle cx="392.61" cy="38.91" r="0.40" fill="#666"/><circle cx="395.68" cy="39.71" r="0.32" fill="#666"/><circle cx="395.68" cy="36.33" r="0.47" fill="#222"/><circle cx="392.21" cy="35.72" r="0.48" fill="#222"/><circle cx="385.87" cy="43.20" r="0.45" fill="#222"/><circle cx="386.13" cy="39.67" r="0.48" fill="#222"/><circle cx="395.64" cy="40.43" r="0.54" fill="#222"/><circle cx="389.39" cy="42.09" r="0.54" fill="#444"/><circle cx="386.52" cy="43.09" r="0.28" fill="#666"/><circle cx="395.60" cy="38.61" r="0.51" fill="#222"/><circle cx="384.52" cy="41.45" r="0.28" fill="#222"/><circle cx="391.20" cy="37.33" r="0.47" fill="#888"/><circle cx="393.66" cy="40.67" r="0.54" fill="#888"/><circle cx="384.88" cy="42.91" r="0.50" fill="#888"/><circle cx="390.67" cy="42.26" r="0.40" fill="#666"/><circle cx="384.38" cy="36.55" r="0.35" fill="#999"/><circle cx="392.74" cy="35.13" r="0.32" fill="#999"/><circle cx="391.29" cy="34.23" r="0.53" fill="#444"/><circle cx="394.13" cy="42.48" r="0.37" fill="#222"/><circle cx="385.38" cy="42.66" r="0.30" fill="#888"/><circle cx="388.19" cy="37.16" r="0.31" fill="#444"/><circle cx="392.52" cy="41.29" r="0.37" fill="#666"/><circle cx="390.35" cy="42.29" r="0.45" fill="#444"/><circle cx="391.29" cy="39.94" r="0.32" fill="#888"/><circle cx="387.88" cy="41.55" r="0.30" fill="#999"/><circle cx="394.55" cy="35.41" r="0.44" fill="#999"/><circle cx="386.60" cy="35.92" r="0.50" fill="#888"/><circle cx="383.66" cy="39.27" r="0.30" fill="#444"/><circle cx="386.09" cy="41.40" r="0.49" fill="#666"/><circle cx="386.16" cy="43.11" r="0.47" fill="#666"/><circle cx="386.30" cy="40.82" r="0.37" fill="#222"/><circle cx="384.84" cy="38.33" r="0.41" fill="#444"/><circle cx="394.41" cy="35.50" r="0.44" fill="#888"/><circle cx="395.88" cy="40.48" r="0.46" fill="#222"/><circle cx="389.33" cy="40.52" r="0.44" fill="#888"/><circle cx="389.17" cy="41.37" r="0.32" fill="#888"/><circle cx="387.23" cy="42.91" r="0.51" fill="#888"/><circle cx="393.65" cy="40.19" r="0.32" fill="#444"/><circle cx="383.73" cy="38.24" r="0.33" fill="#888"/><circle cx="389.85" cy="41.07" r="0.40" fill="#888"/><circle cx="393.34" cy="34.84" r="0.37" fill="#999"/><circle cx="394.19" cy="39.82" r="0.30" fill="#888"/><circle cx="393.26" cy="37.30" r="0.29" fill="#444"/><circle cx="388.42" cy="40.10" r="0.36" fill="#999"/><circle cx="390.49" cy="37.84" r="0.49" fill="#999"/><circle cx="390.38" cy="44.77" r="0.38" fill="#222"/><circle cx="383.93" cy="38.72" r="0.33" fill="#666"/><circle cx="387.58" cy="38.45" r="0.46" fill="#444"/><circle cx="392.29" cy="38.13" r="0.49" fill="#999"/><circle cx="388.79" cy="35.89" r="0.38" fill="#222"/><circle cx="386.78" cy="37.09" r="0.53" fill="#666"/><circle cx="389.88" cy="36.97" r="0.34" fill="#666"/><circle cx="387.58" cy="37.06" r="0.29" fill="#999"/><circle cx="386.51" cy="37.51" r="0.40" fill="#888"/><circle cx="395.94" cy="41.34" r="0.37" fill="#666"/><circle cx="394.63" cy="37.13" r="0.31" fill="#444"/><circle cx="386.51" cy="37.65" r="0.32" fill="#888"/>
<path d="M387.14,38.69 q-0.94,-0.45 -1.77,1.09 M390.12,43.01 q0.53,0.68 1.71,-0.15 M392.97,39.39 q0.49,-0.76 -0.75,-1.65 M390.82,40.05 q0.51,1.13 2.45,0.37 M388.32,41.05 q-0.21,0.88 1.26,1.31 M392.82,42.61 q-0.24,-1.32 -2.48,-1.04 M389.23,35.51 q-0.49,0.74 0.72,1.63" stroke="#333" stroke-width="0.60" fill="none" stroke-linecap="round"/>
<ellipse cx="388.90" cy="40.40" rx="1.30" ry="1.00" fill="#111"/>
<line x1="383.66" y1="30.5" x2="389.00" y2="30.5" stroke="#222" stroke-width="0.80"/>
<line x1="390.60" y1="30.5" x2="395.94" y2="30.5" stroke="#222" stroke-width="0.80"/>
<polygon points="382.16,30.5 384.56,29.20 384.56,31.80" fill="#222"/>
<polygon points="397.44,30.5 395.04,29.20 395.04,31.80" fill="#222"/>
<text x="498.5" y="35.5" font-size="9" text-anchor="middle" fill="#1a1a1a" stroke="#1a1a1a" stroke-width="0.22" >IFC</text>
<path d="M503.50,92.10 C504.22,91.87 506.27,90.80 507.80,90.70 C509.33,90.60 511.07,91.77 512.70,91.50 C514.33,91.23 516.13,89.75 517.60,89.10 C519.07,88.45 520.03,87.77 521.50,87.60 C522.97,87.43 524.77,87.85 526.40,88.10 C528.03,88.35 529.67,88.60 531.30,89.10 C532.93,89.60 534.57,90.18 536.20,91.10 C537.83,92.02 539.47,93.30 541.10,94.60 C542.73,95.90 544.37,98.67 546.00,98.90 C547.63,99.13 549.27,97.13 550.90,96.00 C552.53,94.87 554.18,93.42 555.80,92.10 C557.42,90.78 558.98,89.08 560.60,88.10 C562.22,87.12 563.87,86.68 565.50,86.20 C567.13,85.72 568.77,86.02 570.40,85.20 C572.03,84.38 573.67,81.62 575.30,81.30 C576.93,80.98 578.57,82.32 580.20,83.30 C581.83,84.28 583.30,85.52 585.10,87.20 C586.90,88.88 589.05,92.82 591.00,93.40 C592.95,93.98 595.02,90.60 596.80,90.70 C598.58,90.80 599.90,92.80 601.70,94.00 C603.50,95.20 605.63,97.08 607.60,97.90 C609.57,98.72 611.72,98.57 613.50,98.90 C615.28,99.23 616.68,98.43 618.30,99.90 C619.92,101.37 621.13,105.42 623.20,107.70 C625.27,109.98 629.45,112.62 630.70,113.60 L630.70,133.60 C629.45,132.62 625.27,129.98 623.20,127.70 C621.13,125.42 619.92,121.37 618.30,119.90 C616.68,118.43 615.28,119.23 613.50,118.90 C611.72,118.57 609.57,118.72 607.60,117.90 C605.63,117.08 603.50,115.20 601.70,114.00 C599.90,112.80 598.58,110.80 596.80,110.70 C595.02,110.60 592.95,113.98 591.00,113.40 C589.05,112.82 586.90,108.88 585.10,107.20 C583.30,105.52 581.83,104.28 580.20,103.30 C578.57,102.32 576.93,100.98 575.30,101.30 C573.67,101.62 572.03,104.38 570.40,105.20 C568.77,106.02 567.13,105.72 565.50,106.20 C563.87,106.68 562.22,107.12 560.60,108.10 C558.98,109.08 557.42,110.78 555.80,112.10 C554.18,113.42 552.53,114.87 550.90,116.00 C549.27,117.13 547.63,119.13 546.00,118.90 C544.37,118.67 542.73,115.90 541.10,114.60 C539.47,113.30 537.83,112.02 536.20,111.10 C534.57,110.18 532.93,109.60 531.30,109.10 C529.67,108.60 528.03,108.35 526.40,108.10 C524.77,107.85 522.97,107.43 521.50,107.60 C520.03,107.77 519.07,108.45 517.60,109.10 C516.13,109.75 514.33,111.23 512.70,111.50 C511.07,111.77 509.33,110.60 507.80,110.70 C506.27,110.80 504.22,111.87 503.50,112.10 Z" fill="rgba(140,140,140,0.22)" stroke="none"/>
<path d="M503.50,92.10 C504.22,91.87 506.27,90.80 507.80,90.70 C509.33,90.60 511.07,91.77 512.70,91.50 C514.33,91.23 516.13,89.75 517.60,89.10 C519.07,88.45 520.03,87.77 521.50,87.60 C522.97,87.43 524.77,87.85 526.40,88.10 C528.03,88.35 529.67,88.60 531.30,89.10 C532.93,89.60 534.57,90.18 536.20,91.10 C537.83,92.02 539.47,93.30 541.10,94.60 C542.73,95.90 544.37,98.67 546.00,98.90 C547.63,99.13 549.27,97.13 550.90,96.00 C552.53,94.87 554.18,93.42 555.80,92.10 C557.42,90.78 558.98,89.08 560.60,88.10 C562.22,87.12 563.87,86.68 565.50,86.20 C567.13,85.72 568.77,86.02 570.40,85.20 C572.03,84.38 573.67,81.62 575.30,81.30 C576.93,80.98 578.57,82.32 580.20,83.30 C581.83,84.28 583.30,85.52 585.10,87.20 C586.90,88.88 589.05,92.82 591.00,93.40 C592.95,93.98 595.02,90.60 596.80,90.70 C598.58,90.80 599.90,92.80 601.70,94.00 C603.50,95.20 605.63,97.08 607.60,97.90 C609.57,98.72 611.72,98.57 613.50,98.90 C615.28,99.23 616.68,98.43 618.30,99.90 C619.92,101.37 621.13,105.42 623.20,107.70 C625.27,109.98 629.45,112.62 630.70,113.60" fill="none" stroke="rgba(150,150,150,0.25)" stroke-width="0.9"/>
<path d="M503.50,112.10 C504.22,111.87 506.27,110.80 507.80,110.70 C509.33,110.60 511.07,111.77 512.70,111.50 C514.33,111.23 516.13,109.75 517.60,109.10 C519.07,108.45 520.03,107.77 521.50,107.60 C522.97,107.43 524.77,107.85 526.40,108.10 C528.03,108.35 529.67,108.60 531.30,109.10 C532.93,109.60 534.57,110.18 536.20,111.10 C537.83,112.02 539.47,113.30 541.10,114.60 C542.73,115.90 544.37,118.67 546.00,118.90 C547.63,119.13 549.27,117.13 550.90,116.00 C552.53,114.87 554.18,113.42 555.80,112.10 C557.42,110.78 558.98,109.08 560.60,108.10 C562.22,107.12 563.87,106.68 565.50,106.20 C567.13,105.72 568.77,106.02 570.40,105.20 C572.03,104.38 573.67,101.62 575.30,101.30 C576.93,100.98 578.57,102.32 580.20,103.30 C581.83,104.28 583.30,105.52 585.10,107.20 C586.90,108.88 589.05,112.82 591.00,113.40 C592.95,113.98 595.02,110.60 596.80,110.70 C598.58,110.80 599.90,112.80 601.70,114.00 C603.50,115.20 605.63,117.08 607.60,117.90 C609.57,118.72 611.72,118.57 613.50,118.90 C615.28,119.23 616.68,118.43 618.30,119.90 C619.92,121.37 621.13,125.42 623.20,127.70 C625.27,129.98 629.45,132.62 630.70,133.60" fill="none" stroke="rgba(150,150,150,0.25)" stroke-width="0.9"/>
<path d="M503.50,124.90 C504.05,125.13 505.75,126.72 506.80,126.30 C507.85,125.88 508.65,125.17 509.80,122.40 C510.95,119.63 512.40,114.27 513.70,109.70 C515.00,105.13 516.30,98.75 517.60,95.00 C518.90,91.25 520.27,88.93 521.50,87.20 C522.73,85.47 523.85,84.43 525.00,84.60 C526.15,84.77 527.18,87.02 528.40,88.20 C529.62,89.38 531.00,91.55 532.30,91.70 C533.60,91.85 534.73,90.50 536.20,89.10 C537.67,87.70 539.47,85.42 541.10,83.30 C542.73,81.18 544.37,77.93 546.00,76.40 C547.63,74.87 549.27,75.07 550.90,74.10 C552.53,73.13 554.33,71.12 555.80,70.60 C557.27,70.08 558.23,71.17 559.70,71.00 C561.17,70.83 563.13,69.83 564.60,69.60 C566.07,69.37 567.03,69.60 568.50,69.60 C569.97,69.60 571.78,69.77 573.40,69.60 C575.02,69.43 576.73,68.12 578.20,68.60 C579.67,69.08 580.88,71.35 582.20,72.50 C583.52,73.65 584.63,74.68 586.10,75.50 C587.57,76.32 589.37,77.57 591.00,77.40 C592.63,77.23 594.43,74.92 595.90,74.50 C597.37,74.08 598.50,74.08 599.80,74.90 C601.10,75.72 602.23,77.52 603.70,79.40 C605.17,81.28 606.97,84.48 608.60,86.20 C610.23,87.92 611.72,88.78 613.50,89.70 C615.28,90.62 617.35,91.13 619.30,91.70 C621.25,92.27 623.30,92.65 625.20,93.10 C627.10,93.55 629.78,94.18 630.70,94.40 L630.70,112.40 C629.78,112.18 627.10,111.55 625.20,111.10 C623.30,110.65 621.25,110.27 619.30,109.70 C617.35,109.13 615.28,108.62 613.50,107.70 C611.72,106.78 610.23,105.92 608.60,104.20 C606.97,102.48 605.17,99.28 603.70,97.40 C602.23,95.52 601.10,93.72 599.80,92.90 C598.50,92.08 597.37,92.08 595.90,92.50 C594.43,92.92 592.63,95.23 591.00,95.40 C589.37,95.57 587.57,94.32 586.10,93.50 C584.63,92.68 583.52,91.65 582.20,90.50 C580.88,89.35 579.67,87.08 578.20,86.60 C576.73,86.12 575.02,87.43 573.40,87.60 C571.78,87.77 569.97,87.60 568.50,87.60 C567.03,87.60 566.07,87.37 564.60,87.60 C563.13,87.83 561.17,88.83 559.70,89.00 C558.23,89.17 557.27,88.08 555.80,88.60 C554.33,89.12 552.53,91.13 550.90,92.10 C549.27,93.07 547.63,92.87 546.00,94.40 C544.37,95.93 542.73,99.18 541.10,101.30 C539.47,103.42 537.67,105.70 536.20,107.10 C534.73,108.50 533.60,109.85 532.30,109.70 C531.00,109.55 529.62,107.38 528.40,106.20 C527.18,105.02 526.15,102.77 525.00,102.60 C523.85,102.43 522.73,103.47 521.50,105.20 C520.27,106.93 518.90,109.25 517.60,113.00 C516.30,116.75 515.00,123.13 513.70,127.70 C512.40,132.27 510.95,137.63 509.80,140.40 C508.65,143.17 507.85,143.88 506.80,144.30 C505.75,144.72 504.05,143.13 503.50,142.90 Z" fill="rgba(90,110,180,0.2)" stroke="none"/>
<path d="M503.50,124.90 C504.05,125.13 505.75,126.72 506.80,126.30 C507.85,125.88 508.65,125.17 509.80,122.40 C510.95,119.63 512.40,114.27 513.70,109.70 C515.00,105.13 516.30,98.75 517.60,95.00 C518.90,91.25 520.27,88.93 521.50,87.20 C522.73,85.47 523.85,84.43 525.00,84.60 C526.15,84.77 527.18,87.02 528.40,88.20 C529.62,89.38 531.00,91.55 532.30,91.70 C533.60,91.85 534.73,90.50 536.20,89.10 C537.67,87.70 539.47,85.42 541.10,83.30 C542.73,81.18 544.37,77.93 546.00,76.40 C547.63,74.87 549.27,75.07 550.90,74.10 C552.53,73.13 554.33,71.12 555.80,70.60 C557.27,70.08 558.23,71.17 559.70,71.00 C561.17,70.83 563.13,69.83 564.60,69.60 C566.07,69.37 567.03,69.60 568.50,69.60 C569.97,69.60 571.78,69.77 573.40,69.60 C575.02,69.43 576.73,68.12 578.20,68.60 C579.67,69.08 580.88,71.35 582.20,72.50 C583.52,73.65 584.63,74.68 586.10,75.50 C587.57,76.32 589.37,77.57 591.00,77.40 C592.63,77.23 594.43,74.92 595.90,74.50 C597.37,74.08 598.50,74.08 599.80,74.90 C601.10,75.72 602.23,77.52 603.70,79.40 C605.17,81.28 606.97,84.48 608.60,86.20 C610.23,87.92 611.72,88.78 613.50,89.70 C615.28,90.62 617.35,91.13 619.30,91.70 C621.25,92.27 623.30,92.65 625.20,93.10 C627.10,93.55 629.78,94.18 630.70,94.40" fill="none" stroke="rgba(125,135,245,0.6)" stroke-width="0.9"/>
<path d="M503.50,142.90 C504.05,143.13 505.75,144.72 506.80,144.30 C507.85,143.88 508.65,143.17 509.80,140.40 C510.95,137.63 512.40,132.27 513.70,127.70 C515.00,123.13 516.30,116.75 517.60,113.00 C518.90,109.25 520.27,106.93 521.50,105.20 C522.73,103.47 523.85,102.43 525.00,102.60 C526.15,102.77 527.18,105.02 528.40,106.20 C529.62,107.38 531.00,109.55 532.30,109.70 C533.60,109.85 534.73,108.50 536.20,107.10 C537.67,105.70 539.47,103.42 541.10,101.30 C542.73,99.18 544.37,95.93 546.00,94.40 C547.63,92.87 549.27,93.07 550.90,92.10 C552.53,91.13 554.33,89.12 555.80,88.60 C557.27,88.08 558.23,89.17 559.70,89.00 C561.17,88.83 563.13,87.83 564.60,87.60 C566.07,87.37 567.03,87.60 568.50,87.60 C569.97,87.60 571.78,87.77 573.40,87.60 C575.02,87.43 576.73,86.12 578.20,86.60 C579.67,87.08 580.88,89.35 582.20,90.50 C583.52,91.65 584.63,92.68 586.10,93.50 C587.57,94.32 589.37,95.57 591.00,95.40 C592.63,95.23 594.43,92.92 595.90,92.50 C597.37,92.08 598.50,92.08 599.80,92.90 C601.10,93.72 602.23,95.52 603.70,97.40 C605.17,99.28 606.97,102.48 608.60,104.20 C610.23,105.92 611.72,106.78 613.50,107.70 C615.28,108.62 617.35,109.13 619.30,109.70 C621.25,110.27 623.30,110.65 625.20,111.10 C627.10,111.55 629.78,112.18 630.70,112.40" fill="none" stroke="rgba(125,135,245,0.6)" stroke-width="0.9"/>
<path d="M503.50,102.10 C504.22,101.87 506.27,100.80 507.80,100.70 C509.33,100.60 511.07,101.77 512.70,101.50 C514.33,101.23 516.13,99.75 517.60,99.10 C519.07,98.45 520.03,97.77 521.50,97.60 C522.97,97.43 524.77,97.85 526.40,98.10 C528.03,98.35 529.67,98.60 531.30,99.10 C532.93,99.60 534.57,100.18 536.20,101.10 C537.83,102.02 539.47,103.30 541.10,104.60 C542.73,105.90 544.37,108.67 546.00,108.90 C547.63,109.13 549.27,107.13 550.90,106.00 C552.53,104.87 554.18,103.42 555.80,102.10 C557.42,100.78 558.98,99.08 560.60,98.10 C562.22,97.12 563.87,96.68 565.50,96.20 C567.13,95.72 568.77,96.02 570.40,95.20 C572.03,94.38 573.67,91.62 575.30,91.30 C576.93,90.98 578.57,92.32 580.20,93.30 C581.83,94.28 583.30,95.52 585.10,97.20 C586.90,98.88 589.05,102.82 591.00,103.40 C592.95,103.98 595.02,100.60 596.80,100.70 C598.58,100.80 599.90,102.80 601.70,104.00 C603.50,105.20 605.63,107.08 607.60,107.90 C609.57,108.72 611.72,108.57 613.50,108.90 C615.28,109.23 616.68,108.43 618.30,109.90 C619.92,111.37 621.13,115.42 623.20,117.70 C625.27,119.98 629.45,122.62 630.70,123.60" fill="none" stroke="#a0a0a0" stroke-width="1.7" stroke-linejoin="round" stroke-linecap="round" />
<path d="M503.50,133.90 C504.05,134.13 505.75,135.72 506.80,135.30 C507.85,134.88 508.65,134.17 509.80,131.40 C510.95,128.63 512.40,123.27 513.70,118.70 C515.00,114.13 516.30,107.75 517.60,104.00 C518.90,100.25 520.27,97.93 521.50,96.20 C522.73,94.47 523.85,93.43 525.00,93.60 C526.15,93.77 527.18,96.02 528.40,97.20 C529.62,98.38 531.00,100.55 532.30,100.70 C533.60,100.85 534.73,99.50 536.20,98.10 C537.67,96.70 539.47,94.42 541.10,92.30 C542.73,90.18 544.37,86.93 546.00,85.40 C547.63,83.87 549.27,84.07 550.90,83.10 C552.53,82.13 554.33,80.12 555.80,79.60 C557.27,79.08 558.23,80.17 559.70,80.00 C561.17,79.83 563.13,78.83 564.60,78.60 C566.07,78.37 567.03,78.60 568.50,78.60 C569.97,78.60 571.78,78.77 573.40,78.60 C575.02,78.43 576.73,77.12 578.20,77.60 C579.67,78.08 580.88,80.35 582.20,81.50 C583.52,82.65 584.63,83.68 586.10,84.50 C587.57,85.32 589.37,86.57 591.00,86.40 C592.63,86.23 594.43,83.92 595.90,83.50 C597.37,83.08 598.50,83.08 599.80,83.90 C601.10,84.72 602.23,86.52 603.70,88.40 C605.17,90.28 606.97,93.48 608.60,95.20 C610.23,96.92 611.72,97.78 613.50,98.70 C615.28,99.62 617.35,100.13 619.30,100.70 C621.25,101.27 623.30,101.65 625.20,102.10 C627.10,102.55 629.78,103.18 630.70,103.40" fill="none" stroke="#4a70b0" stroke-width="1.6" stroke-linejoin="round" stroke-linecap="round" />
<line x1="545.6" y1="86.0" x2="545.6" y2="159.5" stroke="#abdaf7" stroke-width="0.75" stroke-dasharray="2.4,0.9" stroke-linecap="butt"/>
<polygon points="543.00,158.30 548.20,158.30 545.60,162.50" fill="#8ccbf4"/>
<line x1="565.5" y1="78.6" x2="565.5" y2="159.5" stroke="#abdaf7" stroke-width="0.75" stroke-dasharray="2.4,0.9" stroke-linecap="butt"/>
<polygon points="562.90,162.50 568.10,162.50 565.50,158.30" fill="#8ccbf4"/>
<line x1="555.8" y1="79.6" x2="555.8" y2="161.4" stroke="#ea4848" stroke-width="0.85" stroke-dasharray="4,0.8" stroke-linecap="butt"/>
<circle cx="555.8" cy="160.8" r="2.35" fill="#f01010"/>
<line x1="567.2" y1="47.8" x2="567.2" y2="164.0" stroke="#3a3a3a" stroke-width="1.15" stroke-dasharray="2.4,1.35" stroke-linecap="butt"/>
<line x1="503.2" y1="164.4" x2="630.4" y2="164.4" stroke="#444" stroke-width="1.2" stroke-linecap="butt"/>
<line x1="545.1" y1="55.7" x2="567.5" y2="55.7" stroke="#000" stroke-width="2.8" stroke-linecap="butt"/>
<text x="514.5" y="173.8" font-size="9.2" text-anchor="middle" fill="#1a1a1a" stroke="#1a1a1a" stroke-width="0.22" >-0.4</text>
<text x="540.1" y="173.8" font-size="9.2" text-anchor="middle" fill="#1a1a1a" stroke="#1a1a1a" stroke-width="0.22" >-0.2</text>
<text x="565.6" y="173.8" font-size="9.2" text-anchor="middle" fill="#1a1a1a" stroke="#1a1a1a" stroke-width="0.22" >0</text>
<text x="591.1" y="173.8" font-size="9.2" text-anchor="middle" fill="#1a1a1a" stroke="#1a1a1a" stroke-width="0.22" >0.2</text>
<text x="616.7" y="173.8" font-size="9.2" text-anchor="middle" fill="#1a1a1a" stroke="#1a1a1a" stroke-width="0.22" >0.4</text>
<polygon points="572.80,30.50 564.50,38.60 567.60,39.60 565.60,45.10 567.20,46.00 569.60,41.10 572.40,42.30" fill="#000" stroke="#000" stroke-width="0.4" stroke-linejoin="round"/>
<line x1="563.60" y1="31.50" x2="569.20" y2="31.50" stroke="#555" stroke-width="0.75"/>
<line x1="559.80" y1="34.50" x2="565.40" y2="34.50" stroke="#555" stroke-width="0.75"/>
<line x1="557.80" y1="37.50" x2="563.40" y2="37.50" stroke="#555" stroke-width="0.75"/>
<line x1="558.90" y1="42.40" x2="564.50" y2="42.40" stroke="#555" stroke-width="0.75"/>
<line x1="390.0" y1="181.2" x2="390.0" y2="294.0" stroke="#333" stroke-width="1.25" stroke-dasharray="2.4,1.35" stroke-linecap="butt"/>
<line x1="369" y1="236.4" x2="497" y2="236.4" stroke="#777" stroke-width="0.8" stroke-dasharray="2.5,1.8" stroke-linecap="butt"/>
<line x1="442.4" y1="263.0" x2="442.4" y2="290.2" stroke="#abdaf7" stroke-width="1.1" stroke-dasharray="2.6,1.3" stroke-linecap="butt"/>
<polygon points="439.80,289.00 445.00,289.00 442.40,293.20" fill="#8ccbf4"/>
<line x1="474.5" y1="263.8" x2="474.5" y2="290.2" stroke="#abdaf7" stroke-width="1.1" stroke-dasharray="2.6,1.3" stroke-linecap="butt"/>
<polygon points="471.90,293.20 477.10,293.20 474.50,289.00" fill="#8ccbf4"/>
<line x1="467.2" y1="285.9" x2="467.2" y2="292.1" stroke="#ea4848" stroke-width="1.1" stroke-dasharray="2.6,1.0" stroke-linecap="butt"/>
<circle cx="467.2" cy="290.6" r="2.35" fill="#f01010"/>
<path d="M369.70,247.40 C370.12,247.93 371.37,249.85 372.20,250.60 C373.03,251.35 373.67,251.07 374.70,251.90 C375.73,252.73 377.37,255.18 378.40,255.60 C379.43,256.02 380.08,255.43 380.90,254.40 C381.72,253.37 382.35,251.27 383.30,249.40 C384.25,247.53 385.55,243.95 386.60,243.20 C387.65,242.45 388.48,244.20 389.60,244.90 C390.72,245.60 392.27,246.57 393.30,247.40 C394.33,248.23 394.77,248.95 395.80,249.90 C396.83,250.85 398.27,252.57 399.50,253.10 C400.73,253.63 401.97,253.72 403.20,253.10 C404.43,252.48 405.67,249.82 406.90,249.40 C408.13,248.98 409.57,250.40 410.60,250.60 C411.63,250.80 412.07,250.05 413.10,250.60 C414.13,251.15 415.55,255.33 416.80,253.90 C418.05,252.47 419.15,244.90 420.60,242.00 C422.05,239.10 424.05,236.42 425.50,236.50 C426.95,236.58 428.05,241.18 429.30,242.50 C430.55,243.82 431.77,243.67 433.00,244.40 C434.23,245.13 435.67,246.40 436.70,246.90 C437.73,247.40 438.28,244.88 439.20,247.40 C440.12,249.92 441.70,259.59 442.20,262.03" fill="none" stroke="#86b6dd" stroke-width="1.7" stroke-linejoin="round" stroke-linecap="round" />
<path d="M474.70,263.00 C474.98,261.77 475.28,257.87 476.40,255.60 C477.52,253.33 480.17,250.23 481.40,249.40 C482.63,248.57 482.57,249.43 483.80,250.60 C485.03,251.77 487.35,256.60 488.80,256.40 C490.25,256.20 491.47,251.18 492.50,249.40 C493.53,247.62 494.30,246.20 495.00,245.70 C495.70,245.20 496.42,246.28 496.70,246.40" fill="none" stroke="#86b6dd" stroke-width="1.7" stroke-linejoin="round" stroke-linecap="round" />
<path d="M442.20,262.03 C442.23,262.19 441.95,260.97 442.40,263.00 C442.85,265.03 444.07,270.88 444.90,274.20 C445.73,277.52 446.28,282.90 447.40,282.90 C448.52,282.90 450.37,277.52 451.60,274.20 C452.83,270.88 453.85,265.48 454.80,263.00 C455.75,260.52 456.60,259.08 457.30,259.30 C458.00,259.52 458.08,261.40 459.00,264.30 C459.92,267.20 461.43,273.10 462.80,276.70 C464.17,280.30 465.77,285.90 467.20,285.90 C468.63,285.90 470.15,280.52 471.40,276.70 C472.65,272.88 474.15,265.28 474.70,263.00" fill="none" stroke="#3070ae" stroke-width="2.0" stroke-linejoin="round" stroke-linecap="round" />
<line x1="368.8" y1="181.2" x2="368.8" y2="295.1" stroke="#888" stroke-width="1.6" stroke-linecap="butt"/>
<line x1="368.8" y1="295.1" x2="496.8" y2="295.1" stroke="#6e6e6e" stroke-width="1.7" stroke-linecap="butt"/>
<text x="368.3" y="305.0" font-size="9.2" text-anchor="middle" fill="#1a1a1a" stroke="#1a1a1a" stroke-width="0.22" >-0.2</text>
<text x="390.0" y="305.0" font-size="9.2" text-anchor="middle" fill="#1a1a1a" stroke="#1a1a1a" stroke-width="0.22" >0</text>
<text x="408.6" y="305.0" font-size="9.2" text-anchor="middle" fill="#1a1a1a" stroke="#1a1a1a" stroke-width="0.22" >0.2</text>
<text x="431.4" y="305.0" font-size="9.2" text-anchor="middle" fill="#1a1a1a" stroke="#1a1a1a" stroke-width="0.22" >0.4</text>
<text x="452.5" y="305.0" font-size="9.2" text-anchor="middle" fill="#1a1a1a" stroke="#1a1a1a" stroke-width="0.22" >0.6</text>
<text x="473.8" y="305.0" font-size="9.2" text-anchor="middle" fill="#1a1a1a" stroke="#1a1a1a" stroke-width="0.22" >0.8</text>
<text x="494.6" y="305.0" font-size="9.2" text-anchor="middle" fill="#1a1a1a" stroke="#1a1a1a" stroke-width="0.22" >1</text>
<text x="364.5" y="190.2" font-size="9.2" text-anchor="end" fill="#1a1a1a" stroke="#1a1a1a" stroke-width="0.22" >0.06</text>
<text x="364.5" y="206.8" font-size="9.2" text-anchor="end" fill="#1a1a1a" stroke="#1a1a1a" stroke-width="0.22" >0.04</text>
<text x="364.5" y="223.4" font-size="9.2" text-anchor="end" fill="#1a1a1a" stroke="#1a1a1a" stroke-width="0.22" >0.02</text>
<text x="364.5" y="239.6" font-size="9.2" text-anchor="end" fill="#1a1a1a" stroke="#1a1a1a" stroke-width="0.22" >0</text>
<text x="364.5" y="256.4" font-size="9.2" text-anchor="end" fill="#1a1a1a" stroke="#1a1a1a" stroke-width="0.22" >-0.02</text>
<text x="364.5" y="273.1" font-size="9.2" text-anchor="end" fill="#1a1a1a" stroke="#1a1a1a" stroke-width="0.22" >-0.04</text>
<text x="364.5" y="289.2" font-size="9.2" text-anchor="end" fill="#1a1a1a" stroke="#1a1a1a" stroke-width="0.22" >-0.06</text>
<text x="337.8" y="243.8" font-size="9.1" text-anchor="middle" fill="#1a1a1a" stroke="#1a1a1a" stroke-width="0.22" transform="rotate(-90 337.8 243.8)">Regression Coef.</text>
<text x="428.9" y="316.8" font-size="9.2" text-anchor="middle" fill="#1a1a1a" stroke="#1a1a1a" stroke-width="0.22" >Time (s)</text>
<line x1="567.0" y1="179.4" x2="567.0" y2="294.5" stroke="#222" stroke-width="1.2" stroke-dasharray="2.4,1.35" stroke-linecap="butt"/>
<line x1="490" y1="236.5" x2="630.5" y2="236.5" stroke="#777" stroke-width="0.8" stroke-dasharray="2.5,1.8" stroke-linecap="butt"/>
<line x1="545.8" y1="268.8" x2="545.8" y2="290.2" stroke="#abdaf7" stroke-width="1.1" stroke-dasharray="2.6,1.3" stroke-linecap="butt"/>
<polygon points="543.20,289.00 548.40,289.00 545.80,293.20" fill="#8ccbf4"/>
<line x1="565.7" y1="267.9" x2="565.7" y2="290.2" stroke="#abdaf7" stroke-width="1.1" stroke-dasharray="2.6,1.3" stroke-linecap="butt"/>
<polygon points="563.10,293.20 568.30,293.20 565.70,289.00" fill="#8ccbf4"/>
<line x1="555.8" y1="273.7" x2="555.8" y2="292.1" stroke="#ea4848" stroke-width="1.1" stroke-dasharray="2.6,1.0" stroke-linecap="butt"/>
<circle cx="555.8" cy="290.6" r="2.35" fill="#f01010"/>
<path d="M503.20,228.30 C503.35,222.72 503.73,202.45 504.10,194.80 C504.47,187.15 504.93,183.22 505.40,182.40 C505.87,181.58 506.28,189.48 506.90,189.90 C507.52,190.32 508.40,184.50 509.10,184.90 C509.80,185.30 510.35,189.00 511.10,192.30 C511.85,195.60 512.90,200.15 513.60,204.70 C514.30,209.25 514.48,216.08 515.30,219.60 C516.12,223.12 517.42,223.73 518.50,225.80 C519.58,227.87 520.77,229.52 521.80,232.00 C522.83,234.48 523.80,239.12 524.70,240.70 C525.60,242.28 526.37,242.32 527.20,241.50 C528.03,240.68 528.67,236.63 529.70,235.80 C530.73,234.97 532.17,234.65 533.40,236.50 C534.63,238.35 535.85,243.72 537.10,246.90 C538.35,250.08 539.87,253.53 540.90,255.60 C541.93,257.67 542.48,257.10 543.30,259.30 C544.12,261.50 545.38,267.22 545.80,268.80" fill="none" stroke="#86b6dd" stroke-width="1.7" stroke-linejoin="round" stroke-linecap="round" />
<path d="M566.90,264.30 C567.52,260.98 569.35,249.03 570.60,244.40 C571.85,239.77 573.15,236.57 574.40,236.50 C575.65,236.43 577.07,242.88 578.10,244.00 C579.13,245.12 579.57,243.75 580.60,243.20 C581.63,242.65 583.27,240.70 584.30,240.70 C585.33,240.70 585.77,242.78 586.80,243.20 C587.83,243.62 589.27,242.17 590.50,243.20 C591.73,244.23 592.97,247.75 594.20,249.40 C595.43,251.05 596.65,251.53 597.90,253.10 C599.15,254.67 600.25,258.80 601.70,258.80 C603.15,258.80 604.95,255.70 606.60,253.10 C608.25,250.50 610.15,245.97 611.60,243.20 C613.05,240.43 614.27,237.53 615.30,236.50 C616.33,235.47 616.97,237.00 617.80,237.00 C618.63,237.00 619.27,233.60 620.30,236.50 C621.33,239.40 622.77,249.35 624.00,254.40 C625.23,259.45 626.55,262.67 627.70,266.80 C628.85,270.93 630.37,277.13 630.90,279.20" fill="none" stroke="#86b6dd" stroke-width="1.7" stroke-linejoin="round" stroke-linecap="round" />
<path d="M545.80,268.80 C546.43,268.67 548.35,267.72 549.60,268.00 C550.85,268.28 552.27,269.55 553.30,270.50 C554.33,271.45 554.85,273.90 555.80,273.70 C556.75,273.50 557.97,269.83 559.00,269.30 C560.03,268.77 561.10,270.10 562.00,270.50 C562.90,270.90 563.58,272.73 564.40,271.70 C565.22,270.67 566.48,265.53 566.90,264.30" fill="none" stroke="#3070ae" stroke-width="2.0" stroke-linejoin="round" stroke-linecap="round" />
<line x1="503.0" y1="295.1" x2="630.9" y2="295.1" stroke="#6e6e6e" stroke-width="1.7" stroke-linecap="butt"/>
<text x="515.2" y="304.8" font-size="9.2" text-anchor="middle" fill="#1a1a1a" stroke="#1a1a1a" stroke-width="0.22" >-0.4</text>
<text x="540.6" y="304.8" font-size="9.2" text-anchor="middle" fill="#1a1a1a" stroke="#1a1a1a" stroke-width="0.22" >-0.2</text>
<text x="566.0" y="304.8" font-size="9.2" text-anchor="middle" fill="#1a1a1a" stroke="#1a1a1a" stroke-width="0.22" >0</text>
<text x="591.4" y="304.8" font-size="9.2" text-anchor="middle" fill="#1a1a1a" stroke="#1a1a1a" stroke-width="0.22" >0.2</text>
<text x="616.8" y="304.8" font-size="9.2" text-anchor="middle" fill="#1a1a1a" stroke="#1a1a1a" stroke-width="0.22" >0.4</text>
<text x="565.7" y="316.8" font-size="9.2" text-anchor="middle" fill="#1a1a1a" stroke="#1a1a1a" stroke-width="0.22" >Time (s)</text>
<path d="M38.90,479.00 C39.72,478.12 42.17,474.80 43.80,473.70 C45.43,472.60 47.07,472.57 48.70,472.40 C50.33,472.23 51.97,472.32 53.60,472.70 C55.23,473.08 57.03,474.85 58.50,474.70 C59.97,474.55 61.10,473.43 62.40,471.80 C63.70,470.17 64.83,467.02 66.30,464.90 C67.77,462.78 69.57,460.23 71.20,459.10 C72.83,457.97 74.47,458.60 76.10,458.10 C77.73,457.60 79.37,457.25 81.00,456.10 C82.63,454.95 84.27,452.73 85.90,451.20 C87.53,449.67 89.17,448.37 90.80,446.90 C92.43,445.43 94.07,444.03 95.70,442.40 C97.33,440.77 98.98,438.23 100.60,437.10 C102.22,435.97 103.78,435.92 105.40,435.60 C107.02,435.28 108.67,435.13 110.30,435.20 C111.93,435.27 113.73,436.10 115.20,436.00 C116.67,435.90 117.78,436.13 119.10,434.60 C120.42,433.07 121.78,428.10 123.10,426.80 C124.42,425.50 125.53,425.67 127.00,426.80 C128.47,427.93 130.43,431.48 131.90,433.60 C133.37,435.72 134.50,439.50 135.80,439.50 C137.10,439.50 138.23,436.22 139.70,433.60 C141.17,430.98 143.13,425.43 144.60,423.80 C146.07,422.17 147.03,422.33 148.50,423.80 C149.97,425.27 151.62,430.25 153.40,432.60 C155.18,434.95 157.08,436.92 159.20,437.90 C161.32,438.88 164.95,438.40 166.10,438.50 L166.10,459.50 C164.95,459.40 161.32,459.88 159.20,458.90 C157.08,457.92 155.18,455.95 153.40,453.60 C151.62,451.25 149.97,446.27 148.50,444.80 C147.03,443.33 146.07,443.17 144.60,444.80 C143.13,446.43 141.17,451.98 139.70,454.60 C138.23,457.22 137.10,460.50 135.80,460.50 C134.50,460.50 133.37,456.72 131.90,454.60 C130.43,452.48 128.47,448.93 127.00,447.80 C125.53,446.67 124.42,446.50 123.10,447.80 C121.78,449.10 120.42,454.07 119.10,455.60 C117.78,457.13 116.67,456.90 115.20,457.00 C113.73,457.10 111.93,456.27 110.30,456.20 C108.67,456.13 107.02,456.28 105.40,456.60 C103.78,456.92 102.22,456.97 100.60,458.10 C98.98,459.23 97.33,461.77 95.70,463.40 C94.07,465.03 92.43,466.43 90.80,467.90 C89.17,469.37 87.53,470.67 85.90,472.20 C84.27,473.73 82.63,475.95 81.00,477.10 C79.37,478.25 77.73,478.60 76.10,479.10 C74.47,479.60 72.83,478.97 71.20,480.10 C69.57,481.23 67.77,483.78 66.30,485.90 C64.83,488.02 63.70,491.17 62.40,492.80 C61.10,494.43 59.97,495.55 58.50,495.70 C57.03,495.85 55.23,494.08 53.60,493.70 C51.97,493.32 50.33,493.23 48.70,493.40 C47.07,493.57 45.43,493.60 43.80,494.70 C42.17,495.80 39.72,499.12 38.90,500.00 Z" fill="rgba(140,140,140,0.22)" stroke="none"/>
<path d="M38.90,479.00 C39.72,478.12 42.17,474.80 43.80,473.70 C45.43,472.60 47.07,472.57 48.70,472.40 C50.33,472.23 51.97,472.32 53.60,472.70 C55.23,473.08 57.03,474.85 58.50,474.70 C59.97,474.55 61.10,473.43 62.40,471.80 C63.70,470.17 64.83,467.02 66.30,464.90 C67.77,462.78 69.57,460.23 71.20,459.10 C72.83,457.97 74.47,458.60 76.10,458.10 C77.73,457.60 79.37,457.25 81.00,456.10 C82.63,454.95 84.27,452.73 85.90,451.20 C87.53,449.67 89.17,448.37 90.80,446.90 C92.43,445.43 94.07,444.03 95.70,442.40 C97.33,440.77 98.98,438.23 100.60,437.10 C102.22,435.97 103.78,435.92 105.40,435.60 C107.02,435.28 108.67,435.13 110.30,435.20 C111.93,435.27 113.73,436.10 115.20,436.00 C116.67,435.90 117.78,436.13 119.10,434.60 C120.42,433.07 121.78,428.10 123.10,426.80 C124.42,425.50 125.53,425.67 127.00,426.80 C128.47,427.93 130.43,431.48 131.90,433.60 C133.37,435.72 134.50,439.50 135.80,439.50 C137.10,439.50 138.23,436.22 139.70,433.60 C141.17,430.98 143.13,425.43 144.60,423.80 C146.07,422.17 147.03,422.33 148.50,423.80 C149.97,425.27 151.62,430.25 153.40,432.60 C155.18,434.95 157.08,436.92 159.20,437.90 C161.32,438.88 164.95,438.40 166.10,438.50" fill="none" stroke="rgba(150,150,150,0.25)" stroke-width="0.9"/>
<path d="M38.90,500.00 C39.72,499.12 42.17,495.80 43.80,494.70 C45.43,493.60 47.07,493.57 48.70,493.40 C50.33,493.23 51.97,493.32 53.60,493.70 C55.23,494.08 57.03,495.85 58.50,495.70 C59.97,495.55 61.10,494.43 62.40,492.80 C63.70,491.17 64.83,488.02 66.30,485.90 C67.77,483.78 69.57,481.23 71.20,480.10 C72.83,478.97 74.47,479.60 76.10,479.10 C77.73,478.60 79.37,478.25 81.00,477.10 C82.63,475.95 84.27,473.73 85.90,472.20 C87.53,470.67 89.17,469.37 90.80,467.90 C92.43,466.43 94.07,465.03 95.70,463.40 C97.33,461.77 98.98,459.23 100.60,458.10 C102.22,456.97 103.78,456.92 105.40,456.60 C107.02,456.28 108.67,456.13 110.30,456.20 C111.93,456.27 113.73,457.10 115.20,457.00 C116.67,456.90 117.78,457.13 119.10,455.60 C120.42,454.07 121.78,449.10 123.10,447.80 C124.42,446.50 125.53,446.67 127.00,447.80 C128.47,448.93 130.43,452.48 131.90,454.60 C133.37,456.72 134.50,460.50 135.80,460.50 C137.10,460.50 138.23,457.22 139.70,454.60 C141.17,451.98 143.13,446.43 144.60,444.80 C146.07,443.17 147.03,443.33 148.50,444.80 C149.97,446.27 151.62,451.25 153.40,453.60 C155.18,455.95 157.08,457.92 159.20,458.90 C161.32,459.88 164.95,459.40 166.10,459.50" fill="none" stroke="rgba(150,150,150,0.25)" stroke-width="0.9"/>
<path d="M38.90,486.90 C39.55,486.67 41.33,485.90 42.80,485.50 C44.27,485.10 46.23,484.83 47.70,484.50 C49.17,484.17 50.28,484.22 51.60,483.50 C52.92,482.78 54.35,480.68 55.60,480.20 C56.85,479.72 57.97,479.88 59.10,480.60 C60.23,481.32 61.20,483.52 62.40,484.50 C63.60,485.48 65.00,486.10 66.30,486.50 C67.60,486.90 68.90,487.88 70.20,486.90 C71.50,485.92 72.78,482.63 74.10,480.60 C75.42,478.57 76.62,476.82 78.10,474.70 C79.58,472.58 81.38,470.02 83.00,467.90 C84.62,465.78 86.18,463.80 87.80,462.00 C89.42,460.20 91.07,458.72 92.70,457.10 C94.33,455.48 96.13,454.08 97.60,452.30 C99.07,450.52 100.35,449.18 101.50,446.40 C102.65,443.62 103.35,438.43 104.50,435.60 C105.65,432.77 107.10,430.87 108.40,429.40 C109.70,427.93 111.00,427.45 112.30,426.80 C113.60,426.15 114.90,425.82 116.20,425.50 C117.50,425.18 118.80,425.82 120.10,424.90 C121.40,423.98 122.70,421.08 124.00,420.00 C125.30,418.92 126.58,418.80 127.90,418.40 C129.22,418.00 130.75,417.67 131.90,417.60 C133.05,417.53 133.83,418.10 134.80,418.00 C135.77,417.90 136.72,417.38 137.70,417.00 C138.68,416.62 139.72,415.37 140.70,415.70 C141.68,416.03 142.47,417.97 143.60,419.00 C144.73,420.03 146.20,421.48 147.50,421.90 C148.80,422.32 150.10,421.57 151.40,421.50 C152.70,421.43 154.00,422.25 155.30,421.50 C156.60,420.75 157.95,416.77 159.20,417.00 C160.45,417.23 161.65,420.72 162.80,422.90 C163.95,425.08 165.55,428.90 166.10,430.10 L166.10,447.10 C165.55,445.90 163.95,442.08 162.80,439.90 C161.65,437.72 160.45,434.23 159.20,434.00 C157.95,433.77 156.60,437.75 155.30,438.50 C154.00,439.25 152.70,438.43 151.40,438.50 C150.10,438.57 148.80,439.32 147.50,438.90 C146.20,438.48 144.73,437.03 143.60,436.00 C142.47,434.97 141.68,433.03 140.70,432.70 C139.72,432.37 138.68,433.62 137.70,434.00 C136.72,434.38 135.77,434.90 134.80,435.00 C133.83,435.10 133.05,434.53 131.90,434.60 C130.75,434.67 129.22,435.00 127.90,435.40 C126.58,435.80 125.30,435.92 124.00,437.00 C122.70,438.08 121.40,440.98 120.10,441.90 C118.80,442.82 117.50,442.18 116.20,442.50 C114.90,442.82 113.60,443.15 112.30,443.80 C111.00,444.45 109.70,444.93 108.40,446.40 C107.10,447.87 105.65,449.77 104.50,452.60 C103.35,455.43 102.65,460.62 101.50,463.40 C100.35,466.18 99.07,467.52 97.60,469.30 C96.13,471.08 94.33,472.48 92.70,474.10 C91.07,475.72 89.42,477.20 87.80,479.00 C86.18,480.80 84.62,482.78 83.00,484.90 C81.38,487.02 79.58,489.58 78.10,491.70 C76.62,493.82 75.42,495.57 74.10,497.60 C72.78,499.63 71.50,502.92 70.20,503.90 C68.90,504.88 67.60,503.90 66.30,503.50 C65.00,503.10 63.60,502.48 62.40,501.50 C61.20,500.52 60.23,498.32 59.10,497.60 C57.97,496.88 56.85,496.72 55.60,497.20 C54.35,497.68 52.92,499.78 51.60,500.50 C50.28,501.22 49.17,501.17 47.70,501.50 C46.23,501.83 44.27,502.10 42.80,502.50 C41.33,502.90 39.55,503.67 38.90,503.90 Z" fill="rgba(90,110,180,0.2)" stroke="none"/>
<path d="M38.90,486.90 C39.55,486.67 41.33,485.90 42.80,485.50 C44.27,485.10 46.23,484.83 47.70,484.50 C49.17,484.17 50.28,484.22 51.60,483.50 C52.92,482.78 54.35,480.68 55.60,480.20 C56.85,479.72 57.97,479.88 59.10,480.60 C60.23,481.32 61.20,483.52 62.40,484.50 C63.60,485.48 65.00,486.10 66.30,486.50 C67.60,486.90 68.90,487.88 70.20,486.90 C71.50,485.92 72.78,482.63 74.10,480.60 C75.42,478.57 76.62,476.82 78.10,474.70 C79.58,472.58 81.38,470.02 83.00,467.90 C84.62,465.78 86.18,463.80 87.80,462.00 C89.42,460.20 91.07,458.72 92.70,457.10 C94.33,455.48 96.13,454.08 97.60,452.30 C99.07,450.52 100.35,449.18 101.50,446.40 C102.65,443.62 103.35,438.43 104.50,435.60 C105.65,432.77 107.10,430.87 108.40,429.40 C109.70,427.93 111.00,427.45 112.30,426.80 C113.60,426.15 114.90,425.82 116.20,425.50 C117.50,425.18 118.80,425.82 120.10,424.90 C121.40,423.98 122.70,421.08 124.00,420.00 C125.30,418.92 126.58,418.80 127.90,418.40 C129.22,418.00 130.75,417.67 131.90,417.60 C133.05,417.53 133.83,418.10 134.80,418.00 C135.77,417.90 136.72,417.38 137.70,417.00 C138.68,416.62 139.72,415.37 140.70,415.70 C141.68,416.03 142.47,417.97 143.60,419.00 C144.73,420.03 146.20,421.48 147.50,421.90 C148.80,422.32 150.10,421.57 151.40,421.50 C152.70,421.43 154.00,422.25 155.30,421.50 C156.60,420.75 157.95,416.77 159.20,417.00 C160.45,417.23 161.65,420.72 162.80,422.90 C163.95,425.08 165.55,428.90 166.10,430.10" fill="none" stroke="rgba(125,135,245,0.6)" stroke-width="0.9"/>
<path d="M38.90,503.90 C39.55,503.67 41.33,502.90 42.80,502.50 C44.27,502.10 46.23,501.83 47.70,501.50 C49.17,501.17 50.28,501.22 51.60,500.50 C52.92,499.78 54.35,497.68 55.60,497.20 C56.85,496.72 57.97,496.88 59.10,497.60 C60.23,498.32 61.20,500.52 62.40,501.50 C63.60,502.48 65.00,503.10 66.30,503.50 C67.60,503.90 68.90,504.88 70.20,503.90 C71.50,502.92 72.78,499.63 74.10,497.60 C75.42,495.57 76.62,493.82 78.10,491.70 C79.58,489.58 81.38,487.02 83.00,484.90 C84.62,482.78 86.18,480.80 87.80,479.00 C89.42,477.20 91.07,475.72 92.70,474.10 C94.33,472.48 96.13,471.08 97.60,469.30 C99.07,467.52 100.35,466.18 101.50,463.40 C102.65,460.62 103.35,455.43 104.50,452.60 C105.65,449.77 107.10,447.87 108.40,446.40 C109.70,444.93 111.00,444.45 112.30,443.80 C113.60,443.15 114.90,442.82 116.20,442.50 C117.50,442.18 118.80,442.82 120.10,441.90 C121.40,440.98 122.70,438.08 124.00,437.00 C125.30,435.92 126.58,435.80 127.90,435.40 C129.22,435.00 130.75,434.67 131.90,434.60 C133.05,434.53 133.83,435.10 134.80,435.00 C135.77,434.90 136.72,434.38 137.70,434.00 C138.68,433.62 139.72,432.37 140.70,432.70 C141.68,433.03 142.47,434.97 143.60,436.00 C144.73,437.03 146.20,438.48 147.50,438.90 C148.80,439.32 150.10,438.57 151.40,438.50 C152.70,438.43 154.00,439.25 155.30,438.50 C156.60,437.75 157.95,433.77 159.20,434.00 C160.45,434.23 161.65,437.72 162.80,439.90 C163.95,442.08 165.55,445.90 166.10,447.10" fill="none" stroke="rgba(125,135,245,0.6)" stroke-width="0.9"/>
<path d="M38.90,489.50 C39.72,488.62 42.17,485.30 43.80,484.20 C45.43,483.10 47.07,483.07 48.70,482.90 C50.33,482.73 51.97,482.82 53.60,483.20 C55.23,483.58 57.03,485.35 58.50,485.20 C59.97,485.05 61.10,483.93 62.40,482.30 C63.70,480.67 64.83,477.52 66.30,475.40 C67.77,473.28 69.57,470.73 71.20,469.60 C72.83,468.47 74.47,469.10 76.10,468.60 C77.73,468.10 79.37,467.75 81.00,466.60 C82.63,465.45 84.27,463.23 85.90,461.70 C87.53,460.17 89.17,458.87 90.80,457.40 C92.43,455.93 94.07,454.53 95.70,452.90 C97.33,451.27 98.98,448.73 100.60,447.60 C102.22,446.47 103.78,446.42 105.40,446.10 C107.02,445.78 108.67,445.63 110.30,445.70 C111.93,445.77 113.73,446.60 115.20,446.50 C116.67,446.40 117.78,446.63 119.10,445.10 C120.42,443.57 121.78,438.60 123.10,437.30 C124.42,436.00 125.53,436.17 127.00,437.30 C128.47,438.43 130.43,441.98 131.90,444.10 C133.37,446.22 134.50,450.00 135.80,450.00 C137.10,450.00 138.23,446.72 139.70,444.10 C141.17,441.48 143.13,435.93 144.60,434.30 C146.07,432.67 147.03,432.83 148.50,434.30 C149.97,435.77 151.62,440.75 153.40,443.10 C155.18,445.45 157.08,447.42 159.20,448.40 C161.32,449.38 164.95,448.90 166.10,449.00" fill="none" stroke="#a0a0a0" stroke-width="1.7" stroke-linejoin="round" stroke-linecap="round" />
<path d="M38.90,495.40 C39.55,495.17 41.33,494.40 42.80,494.00 C44.27,493.60 46.23,493.33 47.70,493.00 C49.17,492.67 50.28,492.72 51.60,492.00 C52.92,491.28 54.35,489.18 55.60,488.70 C56.85,488.22 57.97,488.38 59.10,489.10 C60.23,489.82 61.20,492.02 62.40,493.00 C63.60,493.98 65.00,494.60 66.30,495.00 C67.60,495.40 68.90,496.38 70.20,495.40 C71.50,494.42 72.78,491.13 74.10,489.10 C75.42,487.07 76.62,485.32 78.10,483.20 C79.58,481.08 81.38,478.52 83.00,476.40 C84.62,474.28 86.18,472.30 87.80,470.50 C89.42,468.70 91.07,467.22 92.70,465.60 C94.33,463.98 96.13,462.58 97.60,460.80 C99.07,459.02 100.35,457.68 101.50,454.90 C102.65,452.12 103.35,446.93 104.50,444.10 C105.65,441.27 107.10,439.37 108.40,437.90 C109.70,436.43 111.00,435.95 112.30,435.30 C113.60,434.65 114.90,434.32 116.20,434.00 C117.50,433.68 118.80,434.32 120.10,433.40 C121.40,432.48 122.70,429.58 124.00,428.50 C125.30,427.42 126.58,427.30 127.90,426.90 C129.22,426.50 130.75,426.17 131.90,426.10 C133.05,426.03 133.83,426.60 134.80,426.50 C135.77,426.40 136.72,425.88 137.70,425.50 C138.68,425.12 139.72,423.87 140.70,424.20 C141.68,424.53 142.47,426.47 143.60,427.50 C144.73,428.53 146.20,429.98 147.50,430.40 C148.80,430.82 150.10,430.07 151.40,430.00 C152.70,429.93 154.00,430.75 155.30,430.00 C156.60,429.25 157.95,425.27 159.20,425.50 C160.45,425.73 161.65,429.22 162.80,431.40 C163.95,433.58 165.55,437.40 166.10,438.60" fill="none" stroke="#4a70b0" stroke-width="1.6" stroke-linejoin="round" stroke-linecap="round" />
<line x1="115.6" y1="434.2" x2="115.6" y2="506.4" stroke="#abdaf7" stroke-width="0.75" stroke-dasharray="2.4,0.9" stroke-linecap="butt"/>
<polygon points="113.00,505.20 118.20,505.20 115.60,509.40" fill="#8ccbf4"/>
<line x1="121.7" y1="431.4" x2="121.7" y2="506.4" stroke="#abdaf7" stroke-width="0.75" stroke-dasharray="2.4,0.9" stroke-linecap="butt"/>
<polygon points="119.10,509.40 124.30,509.40 121.70,505.20" fill="#8ccbf4"/>
<line x1="118.5" y1="433.6" x2="118.5" y2="508.3" stroke="#ea4848" stroke-width="0.85" stroke-dasharray="4,0.8" stroke-linecap="butt"/>
<circle cx="118.5" cy="507.7" r="2.35" fill="#f01010"/>
<line x1="59.6" y1="394.5" x2="59.6" y2="511.0" stroke="#1a1a1a" stroke-width="1.3" stroke-dasharray="2.4,1.35" stroke-linecap="butt"/>
<line x1="38.4" y1="397.6" x2="38.4" y2="511.3" stroke="#444" stroke-width="1.1" stroke-linecap="butt"/>
<line x1="38.4" y1="511.3" x2="166.0" y2="511.3" stroke="#444" stroke-width="1.2" stroke-linecap="butt"/>
<line x1="114.2" y1="412.9" x2="121.9" y2="412.9" stroke="#000" stroke-width="2.8" stroke-linecap="butt"/>
<text x="37.2" y="520.7" font-size="9.2" text-anchor="middle" fill="#1a1a1a" stroke="#1a1a1a" stroke-width="0.22" >-0.2</text>
<text x="58.6" y="520.7" font-size="9.2" text-anchor="middle" fill="#1a1a1a" stroke="#1a1a1a" stroke-width="0.22" >0</text>
<text x="79.4" y="520.7" font-size="9.2" text-anchor="middle" fill="#1a1a1a" stroke="#1a1a1a" stroke-width="0.22" >0.2</text>
<text x="100.6" y="520.7" font-size="9.2" text-anchor="middle" fill="#1a1a1a" stroke="#1a1a1a" stroke-width="0.22" >0.4</text>
<text x="122.2" y="520.7" font-size="9.2" text-anchor="middle" fill="#1a1a1a" stroke="#1a1a1a" stroke-width="0.22" >0.6</text>
<text x="143.0" y="520.7" font-size="9.2" text-anchor="middle" fill="#1a1a1a" stroke="#1a1a1a" stroke-width="0.22" >0.8</text>
<text x="164.4" y="520.7" font-size="9.2" text-anchor="middle" fill="#1a1a1a" stroke="#1a1a1a" stroke-width="0.22" >1</text>
<text x="33.5" y="407.0" font-size="9.2" text-anchor="end" fill="#1a1a1a" stroke="#1a1a1a" stroke-width="0.22" >1.125</text>
<text x="33.5" y="438.2" font-size="9.2" text-anchor="end" fill="#1a1a1a" stroke="#1a1a1a" stroke-width="0.22" >1.075</text>
<text x="33.5" y="468.9" font-size="9.2" text-anchor="end" fill="#1a1a1a" stroke="#1a1a1a" stroke-width="0.22" >1.025</text>
<text x="33.5" y="499.8" font-size="9.2" text-anchor="end" fill="#1a1a1a" stroke="#1a1a1a" stroke-width="0.22" >0.975</text>
<text x="7.3" y="455.5" font-size="9.1" text-anchor="middle" fill="#1a1a1a" stroke="#1a1a1a" stroke-width="0.22" transform="rotate(-90 7.3 455.5)">Mean High-Gamma</text>
<circle cx="59.6" cy="385.8" r="7.8" fill="#fff" stroke="#1e1e1e" stroke-width="0.90"/>
<circle cx="57.46" cy="385.22" r="0.54" fill="#444"/><circle cx="63.16" cy="380.35" r="0.36" fill="#666"/><circle cx="57.15" cy="388.26" r="0.29" fill="#222"/><circle cx="64.82" cy="388.50" r="0.45" fill="#888"/><circle cx="54.75" cy="384.40" r="0.39" fill="#666"/><circle cx="60.64" cy="388.06" r="0.44" fill="#999"/><circle cx="64.01" cy="381.78" r="0.50" fill="#222"/><circle cx="57.83" cy="386.73" r="0.40" fill="#222"/><circle cx="63.01" cy="385.88" r="0.42" fill="#444"/><circle cx="56.51" cy="380.58" r="0.44" fill="#444"/><circle cx="63.62" cy="384.41" r="0.39" fill="#666"/><circle cx="62.51" cy="383.60" r="0.36" fill="#999"/><circle cx="62.27" cy="380.43" r="0.48" fill="#444"/><circle cx="54.70" cy="386.74" r="0.48" fill="#444"/><circle cx="64.09" cy="383.79" r="0.36" fill="#999"/><circle cx="54.80" cy="386.51" r="0.35" fill="#999"/><circle cx="63.60" cy="380.68" r="0.36" fill="#888"/><circle cx="61.04" cy="388.05" r="0.36" fill="#888"/><circle cx="58.15" cy="387.32" r="0.54" fill="#666"/><circle cx="62.64" cy="381.84" r="0.30" fill="#666"/><circle cx="58.35" cy="381.42" r="0.51" fill="#999"/><circle cx="60.60" cy="383.82" r="0.52" fill="#444"/><circle cx="64.10" cy="382.02" r="0.39" fill="#999"/><circle cx="53.40" cy="383.61" r="0.39" fill="#888"/><circle cx="56.21" cy="386.95" r="0.52" fill="#444"/><circle cx="56.80" cy="387.90" r="0.34" fill="#999"/><circle cx="55.96" cy="388.78" r="0.39" fill="#444"/><circle cx="61.36" cy="390.79" r="0.38" fill="#222"/><circle cx="55.76" cy="385.61" r="0.51" fill="#999"/><circle cx="61.21" cy="382.32" r="0.29" fill="#666"/><circle cx="58.78" cy="383.13" r="0.43" fill="#999"/><circle cx="65.45" cy="387.24" r="0.54" fill="#444"/><circle cx="65.89" cy="387.34" r="0.39" fill="#999"/><circle cx="58.50" cy="380.95" r="0.44" fill="#666"/><circle cx="55.07" cy="384.68" r="0.51" fill="#222"/><circle cx="59.25" cy="387.78" r="0.50" fill="#444"/><circle cx="54.05" cy="389.41" r="0.33" fill="#666"/><circle cx="60.28" cy="390.66" r="0.49" fill="#999"/><circle cx="63.54" cy="386.13" r="0.51" fill="#888"/><circle cx="56.56" cy="380.19" r="0.42" fill="#999"/><circle cx="58.64" cy="390.16" r="0.40" fill="#444"/><circle cx="61.01" cy="389.79" r="0.36" fill="#444"/><circle cx="57.03" cy="382.33" r="0.38" fill="#444"/><circle cx="58.89" cy="380.34" r="0.45" fill="#999"/><circle cx="56.57" cy="381.72" r="0.41" fill="#444"/><circle cx="59.08" cy="386.46" r="0.38" fill="#999"/><circle cx="61.51" cy="381.37" r="0.46" fill="#666"/><circle cx="63.67" cy="382.19" r="0.35" fill="#999"/><circle cx="60.81" cy="391.72" r="0.32" fill="#888"/><circle cx="56.37" cy="390.91" r="0.41" fill="#222"/><circle cx="60.63" cy="381.00" r="0.54" fill="#444"/><circle cx="57.06" cy="383.47" r="0.29" fill="#666"/><circle cx="61.86" cy="389.39" r="0.48" fill="#666"/><circle cx="55.01" cy="384.60" r="0.37" fill="#222"/><circle cx="59.98" cy="382.21" r="0.39" fill="#888"/><circle cx="61.56" cy="390.36" r="0.47" fill="#444"/><circle cx="57.63" cy="383.36" r="0.38" fill="#666"/><circle cx="53.70" cy="385.35" r="0.30" fill="#999"/><circle cx="61.71" cy="388.68" r="0.48" fill="#999"/><circle cx="56.65" cy="380.69" r="0.43" fill="#999"/><circle cx="58.56" cy="386.05" r="0.45" fill="#888"/><circle cx="62.33" cy="390.94" r="0.47" fill="#666"/><circle cx="57.46" cy="388.52" r="0.40" fill="#999"/><circle cx="61.32" cy="386.54" r="0.49" fill="#999"/><circle cx="60.68" cy="389.18" r="0.35" fill="#222"/><circle cx="62.76" cy="389.29" r="0.43" fill="#888"/><circle cx="65.21" cy="385.92" r="0.51" fill="#999"/><circle cx="62.87" cy="385.75" r="0.45" fill="#222"/><circle cx="56.28" cy="381.91" r="0.43" fill="#888"/><circle cx="56.47" cy="389.03" r="0.46" fill="#999"/>
<path d="M59.77,384.56 q-0.72,-0.73 -2.01,0.42 M55.58,385.94 q-0.79,-0.40 -1.53,0.90 M57.98,383.95 q0.80,-0.59 -0.13,-1.99 M61.68,389.56 q0.06,1.02 1.78,1.00 M62.84,386.50 q0.97,0.85 2.48,-0.72 M57.64,389.05 q-1.09,0.16 -0.91,2.01 M62.92,387.12 q-1.14,0.46 -0.47,2.42" stroke="#333" stroke-width="0.60" fill="none" stroke-linecap="round"/>
<ellipse cx="58.70" cy="387.00" rx="1.30" ry="1.00" fill="#111"/>
<line x1="53.46" y1="377.3" x2="58.80" y2="377.3" stroke="#222" stroke-width="0.80"/>
<line x1="60.40" y1="377.3" x2="65.74" y2="377.3" stroke="#222" stroke-width="0.80"/>
<polygon points="51.96,377.3 54.36,376.00 54.36,378.60" fill="#222"/>
<polygon points="67.24,377.3 64.84,376.00 64.84,378.60" fill="#222"/>
<text x="165.0" y="382.2" font-size="9" text-anchor="middle" fill="#1a1a1a" stroke="#1a1a1a" stroke-width="0.22" >Insula</text>
<path d="M172.80,442.00 C174.45,441.85 179.87,442.28 182.70,441.10 C185.53,439.92 187.42,435.00 189.80,434.90 C192.18,434.80 194.40,438.15 197.00,440.50 C199.60,442.85 203.05,448.75 205.40,449.00 C207.75,449.25 208.73,443.17 211.10,442.00 C213.47,440.83 216.77,442.95 219.60,442.00 C222.43,441.05 225.50,438.05 228.10,436.30 C230.70,434.55 233.07,431.50 235.20,431.50 C237.33,431.50 238.77,434.32 240.90,436.30 C243.03,438.28 245.88,442.70 248.00,443.40 C250.12,444.10 251.95,441.92 253.60,440.50 C255.25,439.08 256.10,436.78 257.90,434.90 C259.70,433.02 262.52,429.20 264.40,429.20 C266.28,429.20 267.22,432.53 269.20,434.90 C271.18,437.27 273.68,441.28 276.30,443.40 C278.92,445.52 282.05,445.95 284.90,447.60 C287.75,449.25 290.80,452.58 293.40,453.30 C296.00,454.02 299.32,452.13 300.50,451.90 L300.50,471.90 C299.32,472.13 296.00,474.02 293.40,473.30 C290.80,472.58 287.75,469.25 284.90,467.60 C282.05,465.95 278.92,465.52 276.30,463.40 C273.68,461.28 271.18,457.27 269.20,454.90 C267.22,452.53 266.28,449.20 264.40,449.20 C262.52,449.20 259.70,453.02 257.90,454.90 C256.10,456.78 255.25,459.08 253.60,460.50 C251.95,461.92 250.12,464.10 248.00,463.40 C245.88,462.70 243.03,458.28 240.90,456.30 C238.77,454.32 237.33,451.50 235.20,451.50 C233.07,451.50 230.70,454.55 228.10,456.30 C225.50,458.05 222.43,461.05 219.60,462.00 C216.77,462.95 213.47,460.83 211.10,462.00 C208.73,463.17 207.75,469.25 205.40,469.00 C203.05,468.75 199.60,462.85 197.00,460.50 C194.40,458.15 192.18,454.80 189.80,454.90 C187.42,455.00 185.53,459.92 182.70,461.10 C179.87,462.28 174.45,461.85 172.80,462.00 Z" fill="rgba(140,140,140,0.22)" stroke="none"/>
<path d="M172.80,442.00 C174.45,441.85 179.87,442.28 182.70,441.10 C185.53,439.92 187.42,435.00 189.80,434.90 C192.18,434.80 194.40,438.15 197.00,440.50 C199.60,442.85 203.05,448.75 205.40,449.00 C207.75,449.25 208.73,443.17 211.10,442.00 C213.47,440.83 216.77,442.95 219.60,442.00 C222.43,441.05 225.50,438.05 228.10,436.30 C230.70,434.55 233.07,431.50 235.20,431.50 C237.33,431.50 238.77,434.32 240.90,436.30 C243.03,438.28 245.88,442.70 248.00,443.40 C250.12,444.10 251.95,441.92 253.60,440.50 C255.25,439.08 256.10,436.78 257.90,434.90 C259.70,433.02 262.52,429.20 264.40,429.20 C266.28,429.20 267.22,432.53 269.20,434.90 C271.18,437.27 273.68,441.28 276.30,443.40 C278.92,445.52 282.05,445.95 284.90,447.60 C287.75,449.25 290.80,452.58 293.40,453.30 C296.00,454.02 299.32,452.13 300.50,451.90" fill="none" stroke="rgba(150,150,150,0.25)" stroke-width="0.9"/>
<path d="M172.80,462.00 C174.45,461.85 179.87,462.28 182.70,461.10 C185.53,459.92 187.42,455.00 189.80,454.90 C192.18,454.80 194.40,458.15 197.00,460.50 C199.60,462.85 203.05,468.75 205.40,469.00 C207.75,469.25 208.73,463.17 211.10,462.00 C213.47,460.83 216.77,462.95 219.60,462.00 C222.43,461.05 225.50,458.05 228.10,456.30 C230.70,454.55 233.07,451.50 235.20,451.50 C237.33,451.50 238.77,454.32 240.90,456.30 C243.03,458.28 245.88,462.70 248.00,463.40 C250.12,464.10 251.95,461.92 253.60,460.50 C255.25,459.08 256.10,456.78 257.90,454.90 C259.70,453.02 262.52,449.20 264.40,449.20 C266.28,449.20 267.22,452.53 269.20,454.90 C271.18,457.27 273.68,461.28 276.30,463.40 C278.92,465.52 282.05,465.95 284.90,467.60 C287.75,469.25 290.80,472.58 293.40,473.30 C296.00,474.02 299.32,472.13 300.50,471.90" fill="none" stroke="rgba(150,150,150,0.25)" stroke-width="0.9"/>
<path d="M172.80,473.20 C173.27,472.27 174.18,468.77 175.60,467.60 C177.02,466.43 179.65,466.30 181.30,466.20 C182.95,466.10 183.85,467.72 185.50,467.00 C187.15,466.28 188.83,464.65 191.20,461.90 C193.57,459.15 197.10,453.82 199.70,450.50 C202.30,447.18 204.20,445.53 206.80,442.00 C209.40,438.47 212.93,432.60 215.30,429.30 C217.67,426.00 219.43,423.95 221.00,422.20 C222.57,420.45 223.28,418.57 224.70,418.80 C226.12,419.03 227.60,422.33 229.50,423.60 C231.40,424.87 233.97,426.63 236.10,426.40 C238.23,426.17 240.32,423.47 242.30,422.20 C244.28,420.93 246.12,418.80 248.00,418.80 C249.88,418.80 251.48,420.70 253.60,422.20 C255.72,423.70 258.57,427.33 260.70,427.80 C262.83,428.27 264.50,427.12 266.40,425.00 C268.30,422.88 270.20,417.70 272.10,415.10 C274.00,412.50 276.15,408.93 277.80,409.40 C279.45,409.87 280.58,413.88 282.00,417.90 C283.42,421.92 284.63,429.23 286.30,433.50 C287.97,437.77 290.35,441.13 292.00,443.50 C293.65,445.87 294.78,447.47 296.20,447.70 C297.62,447.93 299.78,445.37 300.50,444.90 L300.50,461.90 C299.78,462.37 297.62,464.93 296.20,464.70 C294.78,464.47 293.65,462.87 292.00,460.50 C290.35,458.13 287.97,454.77 286.30,450.50 C284.63,446.23 283.42,438.92 282.00,434.90 C280.58,430.88 279.45,426.87 277.80,426.40 C276.15,425.93 274.00,429.50 272.10,432.10 C270.20,434.70 268.30,439.88 266.40,442.00 C264.50,444.12 262.83,445.27 260.70,444.80 C258.57,444.33 255.72,440.70 253.60,439.20 C251.48,437.70 249.88,435.80 248.00,435.80 C246.12,435.80 244.28,437.93 242.30,439.20 C240.32,440.47 238.23,443.17 236.10,443.40 C233.97,443.63 231.40,441.87 229.50,440.60 C227.60,439.33 226.12,436.03 224.70,435.80 C223.28,435.57 222.57,437.45 221.00,439.20 C219.43,440.95 217.67,443.00 215.30,446.30 C212.93,449.60 209.40,455.47 206.80,459.00 C204.20,462.53 202.30,464.18 199.70,467.50 C197.10,470.82 193.57,476.15 191.20,478.90 C188.83,481.65 187.15,483.28 185.50,484.00 C183.85,484.72 182.95,483.10 181.30,483.20 C179.65,483.30 177.02,483.43 175.60,484.60 C174.18,485.77 173.27,489.27 172.80,490.20 Z" fill="rgba(90,110,180,0.2)" stroke="none"/>
<path d="M172.80,473.20 C173.27,472.27 174.18,468.77 175.60,467.60 C177.02,466.43 179.65,466.30 181.30,466.20 C182.95,466.10 183.85,467.72 185.50,467.00 C187.15,466.28 188.83,464.65 191.20,461.90 C193.57,459.15 197.10,453.82 199.70,450.50 C202.30,447.18 204.20,445.53 206.80,442.00 C209.40,438.47 212.93,432.60 215.30,429.30 C217.67,426.00 219.43,423.95 221.00,422.20 C222.57,420.45 223.28,418.57 224.70,418.80 C226.12,419.03 227.60,422.33 229.50,423.60 C231.40,424.87 233.97,426.63 236.10,426.40 C238.23,426.17 240.32,423.47 242.30,422.20 C244.28,420.93 246.12,418.80 248.00,418.80 C249.88,418.80 251.48,420.70 253.60,422.20 C255.72,423.70 258.57,427.33 260.70,427.80 C262.83,428.27 264.50,427.12 266.40,425.00 C268.30,422.88 270.20,417.70 272.10,415.10 C274.00,412.50 276.15,408.93 277.80,409.40 C279.45,409.87 280.58,413.88 282.00,417.90 C283.42,421.92 284.63,429.23 286.30,433.50 C287.97,437.77 290.35,441.13 292.00,443.50 C293.65,445.87 294.78,447.47 296.20,447.70 C297.62,447.93 299.78,445.37 300.50,444.90" fill="none" stroke="rgba(125,135,245,0.6)" stroke-width="0.9"/>
<path d="M172.80,490.20 C173.27,489.27 174.18,485.77 175.60,484.60 C177.02,483.43 179.65,483.30 181.30,483.20 C182.95,483.10 183.85,484.72 185.50,484.00 C187.15,483.28 188.83,481.65 191.20,478.90 C193.57,476.15 197.10,470.82 199.70,467.50 C202.30,464.18 204.20,462.53 206.80,459.00 C209.40,455.47 212.93,449.60 215.30,446.30 C217.67,443.00 219.43,440.95 221.00,439.20 C222.57,437.45 223.28,435.57 224.70,435.80 C226.12,436.03 227.60,439.33 229.50,440.60 C231.40,441.87 233.97,443.63 236.10,443.40 C238.23,443.17 240.32,440.47 242.30,439.20 C244.28,437.93 246.12,435.80 248.00,435.80 C249.88,435.80 251.48,437.70 253.60,439.20 C255.72,440.70 258.57,444.33 260.70,444.80 C262.83,445.27 264.50,444.12 266.40,442.00 C268.30,439.88 270.20,434.70 272.10,432.10 C274.00,429.50 276.15,425.93 277.80,426.40 C279.45,426.87 280.58,430.88 282.00,434.90 C283.42,438.92 284.63,446.23 286.30,450.50 C287.97,454.77 290.35,458.13 292.00,460.50 C293.65,462.87 294.78,464.47 296.20,464.70 C297.62,464.93 299.78,462.37 300.50,461.90" fill="none" stroke="rgba(125,135,245,0.6)" stroke-width="0.9"/>
<path d="M172.80,452.00 C174.45,451.85 179.87,452.28 182.70,451.10 C185.53,449.92 187.42,445.00 189.80,444.90 C192.18,444.80 194.40,448.15 197.00,450.50 C199.60,452.85 203.05,458.75 205.40,459.00 C207.75,459.25 208.73,453.17 211.10,452.00 C213.47,450.83 216.77,452.95 219.60,452.00 C222.43,451.05 225.50,448.05 228.10,446.30 C230.70,444.55 233.07,441.50 235.20,441.50 C237.33,441.50 238.77,444.32 240.90,446.30 C243.03,448.28 245.88,452.70 248.00,453.40 C250.12,454.10 251.95,451.92 253.60,450.50 C255.25,449.08 256.10,446.78 257.90,444.90 C259.70,443.02 262.52,439.20 264.40,439.20 C266.28,439.20 267.22,442.53 269.20,444.90 C271.18,447.27 273.68,451.28 276.30,453.40 C278.92,455.52 282.05,455.95 284.90,457.60 C287.75,459.25 290.80,462.58 293.40,463.30 C296.00,464.02 299.32,462.13 300.50,461.90" fill="none" stroke="#a0a0a0" stroke-width="1.7" stroke-linejoin="round" stroke-linecap="round" />
<path d="M172.80,481.70 C173.27,480.77 174.18,477.27 175.60,476.10 C177.02,474.93 179.65,474.80 181.30,474.70 C182.95,474.60 183.85,476.22 185.50,475.50 C187.15,474.78 188.83,473.15 191.20,470.40 C193.57,467.65 197.10,462.32 199.70,459.00 C202.30,455.68 204.20,454.03 206.80,450.50 C209.40,446.97 212.93,441.10 215.30,437.80 C217.67,434.50 219.43,432.45 221.00,430.70 C222.57,428.95 223.28,427.07 224.70,427.30 C226.12,427.53 227.60,430.83 229.50,432.10 C231.40,433.37 233.97,435.13 236.10,434.90 C238.23,434.67 240.32,431.97 242.30,430.70 C244.28,429.43 246.12,427.30 248.00,427.30 C249.88,427.30 251.48,429.20 253.60,430.70 C255.72,432.20 258.57,435.83 260.70,436.30 C262.83,436.77 264.50,435.62 266.40,433.50 C268.30,431.38 270.20,426.20 272.10,423.60 C274.00,421.00 276.15,417.43 277.80,417.90 C279.45,418.37 280.58,422.38 282.00,426.40 C283.42,430.42 284.63,437.73 286.30,442.00 C287.97,446.27 290.35,449.63 292.00,452.00 C293.65,454.37 294.78,455.97 296.20,456.20 C297.62,456.43 299.78,453.87 300.50,453.40" fill="none" stroke="#4a70b0" stroke-width="1.6" stroke-linejoin="round" stroke-linecap="round" />
<line x1="184.7" y1="475.3" x2="184.7" y2="506.4" stroke="#abdaf7" stroke-width="0.75" stroke-dasharray="2.4,0.9" stroke-linecap="butt"/>
<polygon points="182.10,505.20 187.30,505.20 184.70,509.40" fill="#8ccbf4"/>
<line x1="284.9" y1="436.9" x2="284.9" y2="506.4" stroke="#abdaf7" stroke-width="0.75" stroke-dasharray="2.4,0.9" stroke-linecap="butt"/>
<polygon points="282.30,509.40 287.50,509.40 284.90,505.20" fill="#8ccbf4"/>
<line x1="282.0" y1="426.4" x2="282.0" y2="508.3" stroke="#ea4848" stroke-width="0.85" stroke-dasharray="4,0.8" stroke-linecap="butt"/>
<circle cx="282.0" cy="507.7" r="2.35" fill="#f01010"/>
<line x1="236.3" y1="394.8" x2="236.3" y2="511.0" stroke="#1a1a1a" stroke-width="1.3" stroke-dasharray="2.4,1.35" stroke-linecap="butt"/>
<line x1="172.8" y1="511.3" x2="299.8" y2="511.3" stroke="#444" stroke-width="1.2" stroke-linecap="butt"/>
<line x1="183.6" y1="402.6" x2="194.3" y2="402.6" stroke="#000" stroke-width="2.8" stroke-linecap="butt"/>
<line x1="213.9" y1="402.6" x2="287.7" y2="402.6" stroke="#000" stroke-width="2.8" stroke-linecap="butt"/>
<text x="184.3" y="520.9" font-size="9.2" text-anchor="middle" fill="#1a1a1a" stroke="#1a1a1a" stroke-width="0.22" >-0.4</text>
<text x="209.8" y="520.9" font-size="9.2" text-anchor="middle" fill="#1a1a1a" stroke="#1a1a1a" stroke-width="0.22" >-0.2</text>
<text x="235.2" y="520.9" font-size="9.2" text-anchor="middle" fill="#1a1a1a" stroke="#1a1a1a" stroke-width="0.22" >0</text>
<text x="260.6" y="520.9" font-size="9.2" text-anchor="middle" fill="#1a1a1a" stroke="#1a1a1a" stroke-width="0.22" >0.2</text>
<text x="286.1" y="520.9" font-size="9.2" text-anchor="middle" fill="#1a1a1a" stroke="#1a1a1a" stroke-width="0.22" >0.4</text>
<polygon points="242.40,377.50 234.10,385.60 237.20,386.60 235.20,392.10 236.80,393.00 239.20,388.10 242.00,389.30" fill="#000" stroke="#000" stroke-width="0.4" stroke-linejoin="round"/>
<line x1="233.20" y1="378.50" x2="238.80" y2="378.50" stroke="#555" stroke-width="0.75"/>
<line x1="229.40" y1="381.50" x2="235.00" y2="381.50" stroke="#555" stroke-width="0.75"/>
<line x1="227.40" y1="384.50" x2="233.00" y2="384.50" stroke="#555" stroke-width="0.75"/>
<line x1="228.50" y1="389.40" x2="234.10" y2="389.40" stroke="#555" stroke-width="0.75"/>
<line x1="59.6" y1="528.7" x2="59.6" y2="641.5" stroke="#1a1a1a" stroke-width="1.3" stroke-dasharray="2.4,1.35" stroke-linecap="butt"/>
<line x1="38.5" y1="584.0" x2="166" y2="584.0" stroke="#999" stroke-width="0.8" stroke-dasharray="2.5,1.8" stroke-linecap="butt"/>
<line x1="114.8" y1="609.5" x2="114.8" y2="637.3" stroke="#abdaf7" stroke-width="1.1" stroke-dasharray="2.6,1.3" stroke-linecap="butt"/>
<polygon points="112.20,636.10 117.40,636.10 114.80,640.30" fill="#8ccbf4"/>
<line x1="121.9" y1="611.2" x2="121.9" y2="637.3" stroke="#abdaf7" stroke-width="1.1" stroke-dasharray="2.6,1.3" stroke-linecap="butt"/>
<polygon points="119.30,640.30 124.50,640.30 121.90,636.10" fill="#8ccbf4"/>
<line x1="118.6" y1="617.3" x2="118.6" y2="639.2" stroke="#ea4848" stroke-width="1.1" stroke-dasharray="2.6,1.0" stroke-linecap="butt"/>
<circle cx="118.6" cy="637.0" r="2.35" fill="#f01010"/>
<path d="M38.50,568.40 C38.90,568.60 39.87,569.68 40.90,569.60 C41.93,569.52 43.67,567.68 44.70,567.90 C45.73,568.12 46.07,570.82 47.10,570.90 C48.13,570.98 49.65,568.12 50.90,568.40 C52.15,568.68 53.57,572.18 54.60,572.60 C55.63,573.02 56.27,572.02 57.10,570.90 C57.93,569.78 58.78,567.77 59.60,565.90 C60.42,564.03 61.10,561.77 62.00,559.70 C62.90,557.63 64.08,554.00 65.00,553.50 C65.92,553.00 66.67,556.17 67.50,556.70 C68.33,557.23 69.05,555.37 70.00,556.70 C70.95,558.03 72.05,563.45 73.20,564.70 C74.35,565.95 75.67,564.12 76.90,564.20 C78.13,564.28 79.43,564.50 80.60,565.20 C81.77,565.90 82.87,568.17 83.90,568.40 C84.93,568.63 85.68,566.60 86.80,566.60 C87.92,566.60 89.57,567.57 90.60,568.40 C91.63,569.23 91.77,571.18 93.00,571.60 C94.23,572.02 96.75,570.62 98.00,570.90 C99.25,571.18 99.47,571.03 100.50,573.30 C101.53,575.57 102.75,580.57 104.20,584.50 C105.65,588.43 107.55,592.97 109.20,596.90 C110.85,600.83 113.20,606.06 114.10,608.10 C115.00,610.14 114.52,608.95 114.60,609.12" fill="none" stroke="#86b6dd" stroke-width="1.4" stroke-linejoin="round" stroke-linecap="round" />
<path d="M122.10,610.80 C122.63,609.73 124.15,606.63 125.30,604.40 C126.45,602.17 127.75,597.62 129.00,597.40 C130.25,597.18 131.55,601.93 132.80,603.10 C134.05,604.27 135.27,603.78 136.50,604.40 C137.73,605.02 139.05,608.47 140.20,606.80 C141.35,605.13 142.37,597.37 143.40,594.40 C144.43,591.43 145.28,589.62 146.40,589.00 C147.52,588.38 149.07,589.88 150.10,590.70 C151.13,591.52 151.77,593.48 152.60,593.90 C153.43,594.32 154.07,591.25 155.10,593.20 C156.13,595.15 157.57,603.73 158.80,605.60 C160.03,607.47 161.33,604.40 162.50,604.40 C163.67,604.40 165.25,605.40 165.80,605.60" fill="none" stroke="#86b6dd" stroke-width="1.4" stroke-linejoin="round" stroke-linecap="round" />
<path d="M114.60,609.12 C115.27,610.49 117.43,616.85 118.60,617.30 C119.77,617.75 121.02,612.88 121.60,611.80 C122.18,610.72 122.02,610.97 122.10,610.80" fill="none" stroke="#3070ae" stroke-width="1.9" stroke-linejoin="round" stroke-linecap="round" />
<line x1="38.3" y1="528.7" x2="38.3" y2="642.2" stroke="#444" stroke-width="1.1" stroke-linecap="butt"/>
<line x1="38.5" y1="642.2" x2="166.0" y2="642.2" stroke="#6e6e6e" stroke-width="1.7" stroke-linecap="butt"/>
<text x="37.2" y="651.8" font-size="9.2" text-anchor="middle" fill="#1a1a1a" stroke="#1a1a1a" stroke-width="0.22" >-0.2</text>
<text x="58.8" y="651.8" font-size="9.2" text-anchor="middle" fill="#1a1a1a" stroke="#1a1a1a" stroke-width="0.22" >0</text>
<text x="77.8" y="651.8" font-size="9.2" text-anchor="middle" fill="#1a1a1a" stroke="#1a1a1a" stroke-width="0.22" >0.2</text>
<text x="101.4" y="651.8" font-size="9.2" text-anchor="middle" fill="#1a1a1a" stroke="#1a1a1a" stroke-width="0.22" >0.4</text>
<text x="122.3" y="651.8" font-size="9.2" text-anchor="middle" fill="#1a1a1a" stroke="#1a1a1a" stroke-width="0.22" >0.6</text>
<text x="143.2" y="651.8" font-size="9.2" text-anchor="middle" fill="#1a1a1a" stroke="#1a1a1a" stroke-width="0.22" >0.8</text>
<text x="164.4" y="651.8" font-size="9.2" text-anchor="middle" fill="#1a1a1a" stroke="#1a1a1a" stroke-width="0.22" >1</text>
<text x="33.6" y="535.2" font-size="9.2" text-anchor="end" fill="#1a1a1a" stroke="#1a1a1a" stroke-width="0.22" >0.06</text>
<text x="33.6" y="552.6" font-size="9.2" text-anchor="end" fill="#1a1a1a" stroke="#1a1a1a" stroke-width="0.22" >0.04</text>
<text x="33.6" y="569.9" font-size="9.2" text-anchor="end" fill="#1a1a1a" stroke="#1a1a1a" stroke-width="0.22" >0.02</text>
<text x="33.6" y="587.3" font-size="9.2" text-anchor="end" fill="#1a1a1a" stroke="#1a1a1a" stroke-width="0.22" >0</text>
<text x="33.6" y="605.2" font-size="9.2" text-anchor="end" fill="#1a1a1a" stroke="#1a1a1a" stroke-width="0.22" >-0.02</text>
<text x="33.6" y="622.6" font-size="9.2" text-anchor="end" fill="#1a1a1a" stroke="#1a1a1a" stroke-width="0.22" >-0.04</text>
<text x="33.6" y="639.9" font-size="9.2" text-anchor="end" fill="#1a1a1a" stroke="#1a1a1a" stroke-width="0.22" >-0.06</text>
<text x="7.3" y="591" font-size="9.1" text-anchor="middle" fill="#1a1a1a" stroke="#1a1a1a" stroke-width="0.22" transform="rotate(-90 7.3 591)">Regression Coef.</text>
<text x="98.0" y="663.6" font-size="9.2" text-anchor="middle" fill="#1a1a1a" stroke="#1a1a1a" stroke-width="0.22" >Time (s)</text>
<line x1="235.9" y1="526.6" x2="235.9" y2="641.5" stroke="#1a1a1a" stroke-width="1.3" stroke-dasharray="2.4,1.35" stroke-linecap="butt"/>
<line x1="160" y1="583.9" x2="300" y2="583.9" stroke="#999" stroke-width="0.8" stroke-dasharray="2.5,1.8" stroke-linecap="butt"/>
<line x1="184.6" y1="559.2" x2="184.6" y2="637.3" stroke="#abdaf7" stroke-width="1.1" stroke-dasharray="2.6,1.3" stroke-linecap="butt"/>
<polygon points="182.00,636.10 187.20,636.10 184.60,640.30" fill="#8ccbf4"/>
<path d="M172.70,569.00 C172.93,566.63 173.48,555.98 174.10,554.80 C174.72,553.62 175.68,561.18 176.40,561.90 C177.12,562.62 177.60,559.33 178.40,559.10 C179.20,558.87 180.12,560.50 181.20,560.50 C182.28,560.50 184.20,559.43 184.90,559.10 C185.60,558.77 185.32,558.59 185.40,558.49" fill="none" stroke="#86b6dd" stroke-width="1.4" stroke-linejoin="round" stroke-linecap="round" />
<path d="M282.00,636.70 C282.62,636.00 284.38,635.08 285.70,632.50 C287.02,629.92 288.50,624.73 289.90,621.20 C291.30,617.67 292.92,615.07 294.10,611.30 C295.28,607.53 295.95,601.42 297.00,598.60 C298.05,595.78 299.83,595.10 300.40,594.40" fill="none" stroke="#86b6dd" stroke-width="1.4" stroke-linejoin="round" stroke-linecap="round" />
<path d="M185.40,558.49 C185.78,558.03 186.75,555.37 187.70,555.70 C188.65,556.03 189.83,558.05 191.10,560.50 C192.37,562.95 193.90,566.40 195.30,570.40 C196.70,574.40 198.08,580.50 199.50,584.50 C200.92,588.50 202.38,591.58 203.80,594.40 C205.22,597.22 206.73,600.47 208.00,601.40 C209.27,602.33 210.22,599.28 211.40,600.00 C212.58,600.72 213.78,603.58 215.10,605.70 C216.42,607.82 217.75,609.42 219.30,612.70 C220.85,615.98 222.98,623.75 224.40,625.40 C225.82,627.05 226.53,623.77 227.80,622.60 C229.07,621.43 230.60,621.22 232.00,618.40 C233.40,615.58 235.02,608.05 236.20,605.70 C237.38,603.35 237.92,603.83 239.10,604.30 C240.28,604.77 241.90,606.15 243.30,608.50 C244.70,610.85 245.62,616.28 247.50,618.40 C249.38,620.52 252.95,621.67 254.60,621.20 C256.25,620.73 256.22,617.95 257.40,615.60 C258.58,613.25 260.28,608.75 261.70,607.10 C263.12,605.45 264.50,604.28 265.90,605.70 C267.30,607.12 268.68,612.08 270.10,615.60 C271.52,619.12 273.07,623.98 274.40,626.80 C275.73,629.62 276.83,630.85 278.10,632.50 C279.37,634.15 281.35,636.00 282.00,636.70" fill="none" stroke="#3070ae" stroke-width="1.9" stroke-linejoin="round" stroke-linecap="round" />
<circle cx="282.0" cy="637.2" r="2.3" fill="#f01010"/>
<polygon points="282.60,641.00 286.60,641.00 284.60,637.80" fill="#8ccbf4"/>
<line x1="172.8" y1="642.2" x2="299.8" y2="642.2" stroke="#6e6e6e" stroke-width="1.7" stroke-linecap="butt"/>
<text x="184.3" y="652.2" font-size="9.2" text-anchor="middle" fill="#1a1a1a" stroke="#1a1a1a" stroke-width="0.22" >-0.4</text>
<text x="209.8" y="652.2" font-size="9.2" text-anchor="middle" fill="#1a1a1a" stroke="#1a1a1a" stroke-width="0.22" >-0.2</text>
<text x="235.2" y="652.2" font-size="9.2" text-anchor="middle" fill="#1a1a1a" stroke="#1a1a1a" stroke-width="0.22" >0</text>
<text x="260.6" y="652.2" font-size="9.2" text-anchor="middle" fill="#1a1a1a" stroke="#1a1a1a" stroke-width="0.22" >0.2</text>
<text x="286.1" y="652.2" font-size="9.2" text-anchor="middle" fill="#1a1a1a" stroke="#1a1a1a" stroke-width="0.22" >0.4</text>
<text x="235.5" y="663.6" font-size="9.2" text-anchor="middle" fill="#1a1a1a" stroke="#1a1a1a" stroke-width="0.22" >Time (s)</text>
<rect x="387" y="343.5" width="124.6" height="54.7" rx="15" ry="15" fill="none" stroke="#222" stroke-width="1.1"/>
<circle cx="405.9" cy="355.6" r="5.0" fill="#f01010"/>
<text x="419.6" y="358.8" font-size="9" text-anchor="start" fill="#1a1a1a" stroke="#1a1a1a" stroke-width="0.22" >Peak Effect</text>
<polygon points="394.8,376.2 406.4,376.2 400.6,385.0" fill="#8ccbf4"/>
<polygon points="406.6,385.0 417.4,385.0 412.0,376.2" fill="#8ccbf4"/>
<text x="419.0" y="379.2" font-size="9" text-anchor="start" fill="#1a1a1a" stroke="#1a1a1a" stroke-width="0.22" >Effect Onset/</text>
<text x="419.0" y="390.9" font-size="9" text-anchor="start" fill="#1a1a1a" stroke="#1a1a1a" stroke-width="0.22" >Offset</text>
<line x1="369.5" y1="419.0" x2="369.5" y2="642.0" stroke="#1a1a1a" stroke-width="1.0" stroke-linecap="butt"/>
<line x1="369.2" y1="641.9" x2="488.8" y2="641.9" stroke="#333" stroke-width="1.2" stroke-linecap="butt"/>
<text x="360.2" y="433.3" font-size="8.8" text-anchor="end" fill="#1a1a1a" stroke="#1a1a1a" stroke-width="0.22" >1</text>
<text x="356.1" y="477.1" font-size="8.8" text-anchor="end" fill="#1a1a1a" stroke="#1a1a1a" stroke-width="0.22" >0.8</text>
<text x="356.1" y="518.9" font-size="8.8" text-anchor="end" fill="#1a1a1a" stroke="#1a1a1a" stroke-width="0.22" >0.6</text>
<text x="356.1" y="561.1" font-size="8.8" text-anchor="end" fill="#1a1a1a" stroke="#1a1a1a" stroke-width="0.22" >0.4</text>
<text x="356.1" y="604.1" font-size="8.8" text-anchor="end" fill="#1a1a1a" stroke="#1a1a1a" stroke-width="0.22" >0.2</text>
<text x="360.4" y="645.6" font-size="8.8" text-anchor="end" fill="#1a1a1a" stroke="#1a1a1a" stroke-width="0.22" >0</text>
<text x="329.2" y="540.1" font-size="9.1" text-anchor="middle" fill="#1a1a1a" stroke="#1a1a1a" stroke-width="0.22" transform="rotate(-90 329.2 540.1)">Time from Stim. (s)</text>
<text x="393.0" y="650.9" font-size="8.9" text-anchor="end" fill="#1a1a1a" stroke="#1a1a1a" stroke-width="0.22" transform="rotate(-45 393.0 650.9)">pSMA</text>
<text x="433.8" y="650.5" font-size="8.9" text-anchor="end" fill="#1a1a1a" stroke="#1a1a1a" stroke-width="0.22" transform="rotate(-45 433.8 650.5)">IFC</text>
<text x="479.1" y="649.9" font-size="8.9" text-anchor="end" fill="#1a1a1a" stroke="#1a1a1a" stroke-width="0.22" transform="rotate(-45 479.1 649.9)">Insula</text>
<polygon points="377.10,514.80 388.90,514.80 383.00,505.00" fill="#8ccbf4"/>
<polygon points="377.10,555.10 388.90,555.10 383.00,564.90" fill="#8ccbf4"/>
<circle cx="383.0" cy="527.9" r="5.2" fill="#fa0000"/>
<polygon points="420.50,478.80 432.30,478.80 426.40,469.00" fill="#8ccbf4"/>
<polygon points="420.50,533.30 432.30,533.30 426.40,543.10" fill="#8ccbf4"/>
<circle cx="426.4" cy="487.4" r="5.2" fill="#fa0000"/>
<polygon points="464.20,522.20 476.00,522.20 470.10,512.40" fill="#8ccbf4"/>
<polygon points="464.20,527.90 476.00,527.90 470.10,537.70" fill="#8ccbf4"/>
<circle cx="470.1" cy="524.7" r="5.2" fill="#fa0000"/>
<circle cx="336.2" cy="642.0" r="10.3" fill="#fff" stroke="#1e1e1e" stroke-width="1.17"/>
<circle cx="335.70" cy="639.01" r="0.54" fill="#222"/><circle cx="334.13" cy="640.93" r="0.36" fill="#999"/><circle cx="341.29" cy="636.83" r="0.61" fill="#999"/><circle cx="332.82" cy="636.46" r="0.63" fill="#999"/><circle cx="344.48" cy="643.38" r="0.43" fill="#999"/><circle cx="337.64" cy="637.61" r="0.56" fill="#444"/><circle cx="338.57" cy="636.15" r="0.59" fill="#444"/><circle cx="333.64" cy="637.23" r="0.58" fill="#222"/><circle cx="333.38" cy="641.32" r="0.43" fill="#999"/><circle cx="330.88" cy="635.48" r="0.65" fill="#999"/><circle cx="333.43" cy="646.14" r="0.70" fill="#999"/><circle cx="343.74" cy="641.48" r="0.47" fill="#666"/><circle cx="330.82" cy="636.25" r="0.62" fill="#888"/><circle cx="335.83" cy="634.29" r="0.37" fill="#666"/><circle cx="342.87" cy="637.08" r="0.55" fill="#888"/><circle cx="332.05" cy="648.64" r="0.61" fill="#222"/><circle cx="339.63" cy="634.95" r="0.55" fill="#666"/><circle cx="329.25" cy="646.06" r="0.53" fill="#999"/><circle cx="334.36" cy="644.63" r="0.44" fill="#666"/><circle cx="334.07" cy="639.03" r="0.50" fill="#222"/><circle cx="336.14" cy="649.22" r="0.56" fill="#444"/><circle cx="336.16" cy="648.55" r="0.37" fill="#666"/><circle cx="339.65" cy="634.18" r="0.71" fill="#444"/><circle cx="335.93" cy="639.27" r="0.62" fill="#222"/><circle cx="329.25" cy="644.71" r="0.46" fill="#999"/><circle cx="333.50" cy="640.94" r="0.41" fill="#666"/><circle cx="339.46" cy="640.83" r="0.52" fill="#888"/><circle cx="332.00" cy="641.51" r="0.65" fill="#888"/><circle cx="330.82" cy="638.68" r="0.49" fill="#999"/><circle cx="343.68" cy="637.82" r="0.53" fill="#666"/><circle cx="335.32" cy="648.25" r="0.50" fill="#444"/><circle cx="335.16" cy="644.74" r="0.47" fill="#999"/><circle cx="337.87" cy="639.50" r="0.40" fill="#888"/><circle cx="343.28" cy="646.37" r="0.70" fill="#888"/><circle cx="335.77" cy="648.39" r="0.50" fill="#666"/><circle cx="329.99" cy="644.64" r="0.65" fill="#444"/><circle cx="333.69" cy="649.80" r="0.58" fill="#999"/><circle cx="341.86" cy="647.24" r="0.38" fill="#999"/><circle cx="339.30" cy="635.75" r="0.43" fill="#999"/><circle cx="332.13" cy="636.32" r="0.71" fill="#444"/><circle cx="338.98" cy="638.44" r="0.38" fill="#999"/><circle cx="333.26" cy="642.26" r="0.64" fill="#666"/><circle cx="339.32" cy="634.54" r="0.63" fill="#444"/><circle cx="334.68" cy="648.82" r="0.42" fill="#999"/><circle cx="331.09" cy="641.88" r="0.64" fill="#444"/><circle cx="335.26" cy="636.09" r="0.51" fill="#222"/><circle cx="334.95" cy="644.22" r="0.66" fill="#666"/><circle cx="340.26" cy="640.58" r="0.66" fill="#999"/><circle cx="340.96" cy="638.67" r="0.45" fill="#999"/><circle cx="330.47" cy="644.23" r="0.37" fill="#222"/><circle cx="340.96" cy="637.05" r="0.57" fill="#222"/><circle cx="333.14" cy="639.45" r="0.40" fill="#888"/><circle cx="335.86" cy="644.41" r="0.68" fill="#444"/><circle cx="335.45" cy="650.41" r="0.65" fill="#222"/><circle cx="330.49" cy="636.80" r="0.61" fill="#222"/><circle cx="336.53" cy="647.69" r="0.54" fill="#888"/><circle cx="342.84" cy="638.74" r="0.54" fill="#888"/><circle cx="336.60" cy="644.00" r="0.38" fill="#222"/><circle cx="328.86" cy="640.75" r="0.45" fill="#444"/><circle cx="334.96" cy="642.42" r="0.42" fill="#444"/><circle cx="334.65" cy="641.26" r="0.41" fill="#222"/><circle cx="338.45" cy="638.21" r="0.48" fill="#666"/><circle cx="335.48" cy="642.43" r="0.52" fill="#444"/><circle cx="329.44" cy="643.66" r="0.59" fill="#666"/><circle cx="335.41" cy="638.39" r="0.71" fill="#444"/><circle cx="343.56" cy="638.11" r="0.59" fill="#666"/><circle cx="332.85" cy="642.78" r="0.69" fill="#999"/><circle cx="337.94" cy="648.69" r="0.68" fill="#666"/><circle cx="344.13" cy="645.50" r="0.67" fill="#888"/><circle cx="343.71" cy="644.64" r="0.66" fill="#999"/><circle cx="336.44" cy="634.46" r="0.69" fill="#444"/><circle cx="342.65" cy="639.00" r="0.66" fill="#666"/><circle cx="336.96" cy="637.42" r="0.38" fill="#666"/><circle cx="342.32" cy="640.11" r="0.56" fill="#444"/><circle cx="335.20" cy="646.16" r="0.37" fill="#222"/><circle cx="330.14" cy="636.00" r="0.40" fill="#999"/><circle cx="330.39" cy="646.28" r="0.42" fill="#888"/><circle cx="340.00" cy="636.41" r="0.38" fill="#444"/><circle cx="332.96" cy="645.15" r="0.71" fill="#444"/><circle cx="338.93" cy="649.52" r="0.38" fill="#999"/><circle cx="331.92" cy="644.37" r="0.37" fill="#666"/><circle cx="330.73" cy="641.20" r="0.51" fill="#222"/><circle cx="336.62" cy="638.92" r="0.61" fill="#666"/><circle cx="333.94" cy="636.39" r="0.69" fill="#444"/><circle cx="330.14" cy="637.13" r="0.51" fill="#222"/><circle cx="343.15" cy="638.40" r="0.41" fill="#444"/><circle cx="342.39" cy="639.79" r="0.69" fill="#666"/><circle cx="342.67" cy="641.80" r="0.43" fill="#999"/><circle cx="335.15" cy="644.27" r="0.71" fill="#444"/><circle cx="335.83" cy="646.95" r="0.63" fill="#222"/><circle cx="329.96" cy="639.70" r="0.44" fill="#999"/>
<path d="M335.17,639.92 q-1.57,0.25 -1.28,2.92 M333.30,642.75 q-0.47,1.77 2.46,2.71 M332.57,646.28 q1.87,-0.20 1.69,-3.37 M337.57,640.91 q1.13,-0.49 0.41,-2.43 M336.20,640.28 q1.40,-0.36 0.90,-2.75 M333.49,641.51 q-1.41,-0.03 -1.57,2.33 M333.62,642.29 q-0.36,1.56 2.24,2.30" stroke="#333" stroke-width="0.78" fill="none" stroke-linecap="round"/>
<ellipse cx="335.03" cy="643.56" rx="1.69" ry="1.30" fill="#111"/>
<line x1="327.61" y1="629.4" x2="335.40" y2="629.4" stroke="#222" stroke-width="1.04"/>
<line x1="337.00" y1="629.4" x2="344.79" y2="629.4" stroke="#222" stroke-width="1.04"/>
<polygon points="326.11,629.4 329.23,627.71 329.23,631.09" fill="#222"/>
<polygon points="346.29,629.4 343.17,627.71 343.17,631.09" fill="#222"/>
<line x1="547.5" y1="418.6" x2="547.5" y2="642.3" stroke="#1a1a1a" stroke-width="1.0" stroke-linecap="butt"/>
<line x1="547.2" y1="642.2" x2="666.4" y2="642.2" stroke="#333" stroke-width="1.2" stroke-linecap="butt"/>
<text x="532.8" y="444.9" font-size="8.8" text-anchor="middle" fill="#1a1a1a" stroke="#1a1a1a" stroke-width="0.22" >0.4</text>
<text x="532.8" y="489.4" font-size="8.8" text-anchor="middle" fill="#1a1a1a" stroke="#1a1a1a" stroke-width="0.22" >0.2</text>
<text x="534.3" y="533.9" font-size="8.8" text-anchor="middle" fill="#1a1a1a" stroke="#1a1a1a" stroke-width="0.22" >0</text>
<text x="532.4" y="578.8" font-size="8.8" text-anchor="middle" fill="#1a1a1a" stroke="#1a1a1a" stroke-width="0.22" >-0.2</text>
<text x="532.4" y="624.1" font-size="8.8" text-anchor="middle" fill="#1a1a1a" stroke="#1a1a1a" stroke-width="0.22" >-0.4</text>
<text x="518.1" y="532.0" font-size="9.1" text-anchor="middle" fill="#1a1a1a" stroke="#1a1a1a" stroke-width="0.22" transform="rotate(-90 518.1 532.0)">Time relative to move onset (s)</text>
<line x1="547.5" y1="531.1" x2="666.2" y2="531.1" stroke="#444" stroke-width="1.1" stroke-dasharray="2.75,1.2" stroke-linecap="butt"/>
<text x="570.5" y="650.9" font-size="8.9" text-anchor="end" fill="#1a1a1a" stroke="#1a1a1a" stroke-width="0.22" transform="rotate(-45 570.5 650.9)">pSMA</text>
<text x="610.3" y="650.5" font-size="8.9" text-anchor="end" fill="#1a1a1a" stroke="#1a1a1a" stroke-width="0.22" transform="rotate(-45 610.3 650.5)">IFC</text>
<text x="656.6" y="649.9" font-size="8.9" text-anchor="end" fill="#1a1a1a" stroke="#1a1a1a" stroke-width="0.22" transform="rotate(-45 656.6 649.9)">Insula</text>
<polygon points="554.90,509.70 566.70,509.70 560.80,499.90" fill="#8ccbf4"/>
<polygon points="554.90,601.80 566.70,601.80 560.80,611.60" fill="#8ccbf4"/>
<circle cx="560.8" cy="560.9" r="5.2" fill="#fa0000"/>
<polygon points="597.00,537.90 608.80,537.90 602.90,528.10" fill="#8ccbf4"/>
<polygon points="597.00,563.10 608.80,563.10 602.90,572.90" fill="#8ccbf4"/>
<circle cx="602.9" cy="550.0" r="5.2" fill="#fa0000"/>
<polygon points="641.90,449.70 653.70,449.70 647.80,439.90" fill="#8ccbf4"/>
<polygon points="641.90,616.40 653.70,616.40 647.80,626.20" fill="#8ccbf4"/>
<circle cx="647.8" cy="451.2" r="5.2" fill="#fa0000"/>
<polygon points="684.70,523.50 676.40,531.60 679.50,532.60 677.50,538.10 679.10,539.00 681.50,534.10 684.30,535.30" fill="#000" stroke="#000" stroke-width="0.4" stroke-linejoin="round"/>
<line x1="675.50" y1="524.50" x2="681.10" y2="524.50" stroke="#555" stroke-width="0.75"/>
<line x1="671.70" y1="527.50" x2="677.30" y2="527.50" stroke="#555" stroke-width="0.75"/>
<line x1="669.70" y1="530.50" x2="675.30" y2="530.50" stroke="#555" stroke-width="0.75"/>
<line x1="670.80" y1="535.40" x2="676.40" y2="535.40" stroke="#555" stroke-width="0.75"/>
</svg>
</body></html>
